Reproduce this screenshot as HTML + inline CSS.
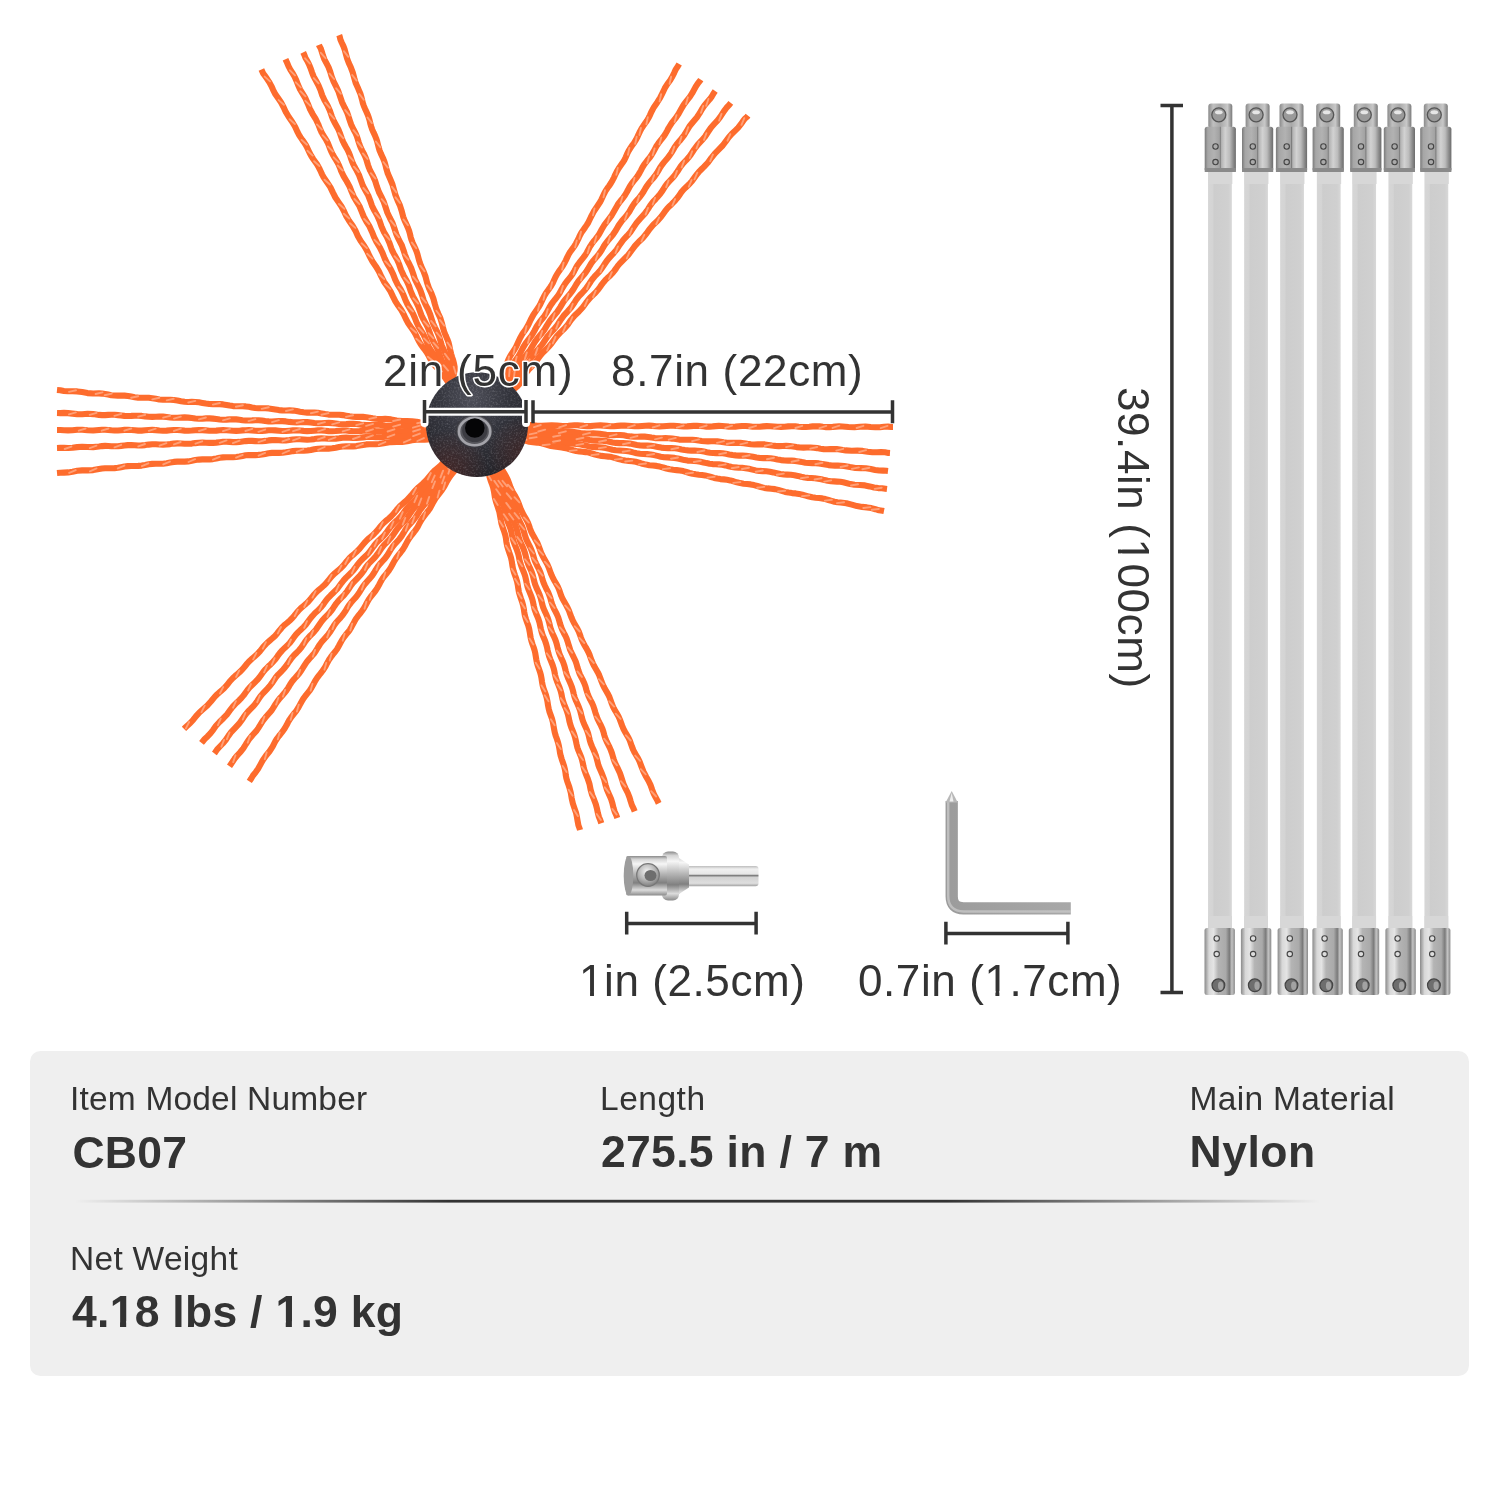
<!DOCTYPE html>
<html><head><meta charset="utf-8"><title>Chimney brush kit</title>
<style>html,body{margin:0;padding:0;background:#fff;width:1500px;height:1500px;overflow:hidden}svg{display:block;will-change:transform}</style>
</head><body>
<svg width="1500" height="1500" viewBox="0 0 1500 1500">

<defs>
 <radialGradient id="hubg" cx="0.45" cy="0.25" r="0.8">
  <stop offset="0" stop-color="#4e4f59"/>
  <stop offset="0.45" stop-color="#33343c"/>
  <stop offset="1" stop-color="#222227"/>
 </radialGradient>
 <filter id="noise" x="0" y="0" width="100%" height="100%">
  <feTurbulence type="fractalNoise" baseFrequency="0.55" numOctaves="2" seed="3" result="n"/>
  <feColorMatrix type="matrix" values="0 0 0 0 0.75  0 0 0 0 0.75  0 0 0 0 0.8  0 0 0 1.6 -0.75"/>
 </filter>
 <clipPath id="hubclip"><ellipse cx="477" cy="424.6" rx="51" ry="52.4"/></clipPath>
 <radialGradient id="hubred" cx="0.22" cy="0.95" r="0.4">
  <stop offset="0" stop-color="#7a2c22" stop-opacity="0.35"/>
  <stop offset="1" stop-color="#7a2c22" stop-opacity="0"/>
 </radialGradient>
 <radialGradient id="hubred2" cx="0.95" cy="0.78" r="0.35">
  <stop offset="0" stop-color="#7a2c22" stop-opacity="0.3"/>
  <stop offset="1" stop-color="#7a2c22" stop-opacity="0"/>
 </radialGradient>
 <radialGradient id="holeg" cx="0.5" cy="0.5" r="0.5">
  <stop offset="0" stop-color="#000"/>
  <stop offset="0.62" stop-color="#0a0a0c"/>
  <stop offset="0.7" stop-color="#8a8a90"/>
  <stop offset="0.85" stop-color="#6a6a70"/>
  <stop offset="1" stop-color="#44444a"/>
 </radialGradient>
 <linearGradient id="slv" x1="0" x2="1" y1="0" y2="0">
  <stop offset="0" stop-color="#7a7a7a"/>
  <stop offset="0.1" stop-color="#a6a6a6"/>
  <stop offset="0.3" stop-color="#b2b2b2"/>
  <stop offset="0.47" stop-color="#a2a2a2"/>
  <stop offset="0.5" stop-color="#7e7e7e"/>
  <stop offset="0.54" stop-color="#b4b4b4"/>
  <stop offset="0.66" stop-color="#d2d2d2"/>
  <stop offset="0.8" stop-color="#bcbcbc"/>
  <stop offset="0.92" stop-color="#8a8a8a"/>
  <stop offset="1" stop-color="#6c6c6c"/>
 </linearGradient>
 <linearGradient id="slvb" x1="0" x2="1" y1="0" y2="0">
  <stop offset="0" stop-color="#8a8a8a"/>
  <stop offset="0.15" stop-color="#d8d8d8"/>
  <stop offset="0.3" stop-color="#e4e4e4"/>
  <stop offset="0.45" stop-color="#b4b4b4"/>
  <stop offset="0.7" stop-color="#aaaaaa"/>
  <stop offset="0.82" stop-color="#7a7a7a"/>
  <stop offset="0.9" stop-color="#c4c4c4"/>
  <stop offset="1" stop-color="#8a8a8a"/>
 </linearGradient>
 <linearGradient id="capg" x1="0" x2="1" y1="0" y2="0">
  <stop offset="0" stop-color="#8a8a8a"/>
  <stop offset="0.2" stop-color="#c0c0c0"/>
  <stop offset="0.5" stop-color="#a8a8a8"/>
  <stop offset="0.8" stop-color="#c8c8c8"/>
  <stop offset="1" stop-color="#7a7a7a"/>
 </linearGradient>
 <linearGradient id="rodg" x1="0" x2="1" y1="0" y2="0">
  <stop offset="0" stop-color="#d6d6d6"/>
  <stop offset="0.2" stop-color="#d4d4d4"/>
  <stop offset="0.25" stop-color="#cdcdcd"/>
  <stop offset="0.85" stop-color="#d0d0d0"/>
  <stop offset="1" stop-color="#d8d8d8"/>
 </linearGradient>
 <linearGradient id="metv" x1="0" x2="0" y1="0" y2="1">
  <stop offset="0" stop-color="#8a8a8a"/>
  <stop offset="0.08" stop-color="#d4d4d4"/>
  <stop offset="0.2" stop-color="#f6f6f6"/>
  <stop offset="0.45" stop-color="#b6b6b6"/>
  <stop offset="0.68" stop-color="#808080"/>
  <stop offset="0.86" stop-color="#dcdcdc"/>
  <stop offset="1" stop-color="#8a8a8a"/>
 </linearGradient>
 <radialGradient id="holec" cx="0.45" cy="0.35" r="0.6">
  <stop offset="0" stop-color="#f4f4f4"/>
  <stop offset="0.6" stop-color="#b8b8b8"/>
  <stop offset="1" stop-color="#8a8a8a"/>
 </radialGradient>
 <linearGradient id="keyg" x1="0" x2="1" y1="0" y2="0">
  <stop offset="0" stop-color="#9c9c9c"/>
  <stop offset="1" stop-color="#a8a8a8"/>
 </linearGradient>
 <linearGradient id="shaftg" x1="0" x2="0" y1="0" y2="1">
  <stop offset="0" stop-color="#bdbdbd"/>
  <stop offset="0.15" stop-color="#f0f0f0"/>
  <stop offset="0.4" stop-color="#e6e6e6"/>
  <stop offset="0.47" stop-color="#7c7c7c"/>
  <stop offset="0.56" stop-color="#d2d2d2"/>
  <stop offset="0.85" stop-color="#dedede"/>
  <stop offset="1" stop-color="#a0a0a0"/>
 </linearGradient>
 <linearGradient id="divg" x1="0" x2="1" y1="0" y2="0">
  <stop offset="0" stop-color="#333" stop-opacity="0"/>
  <stop offset="0.3" stop-color="#333" stop-opacity="1"/>
  <stop offset="0.7" stop-color="#333" stop-opacity="1"/>
  <stop offset="1" stop-color="#333" stop-opacity="0"/>
 </linearGradient>
</defs>
<g fill="none" stroke="#fd6c2d" stroke-width="6.1" stroke-linecap="butt" stroke-linejoin="round"><path d="M453.9 389.9 L452.1 387.3 L450.2 384.9 L448.2 382.3 L446.5 379.8 L444.6 377.0 L442.8 374.4 L440.9 372.1 L438.8 369.8 L436.6 367.5 L434.1 364.7 L432.0 361.8 L430.4 359.1 L428.8 356.1 L426.9 352.8 L424.5 349.3 L422.6 346.8 L420.7 344.2 L418.9 341.2 L417.2 337.8 L415.5 334.2 L413.4 330.6 L410.8 327.0 L408.2 323.2 L405.9 319.0 L403.8 314.5 L401.3 310.1 L398.3 305.8 L395.4 301.3 L392.9 296.4 L390.5 291.4 L387.4 286.6 L384.1 281.9 L381.4 276.7 L378.9 271.4 L375.9 266.4 L372.5 261.5 L369.6 256.3 L367.1 250.9 L364.1 245.8 L360.7 241.0 L357.8 235.9 L355.4 230.6 L352.5 225.6 L349.2 221.0 L346.3 216.2 L344.0 211.2 L341.5 206.5 L338.5 202.1 L335.4 197.5 L332.8 192.4 L330.3 187.1 L327.0 182.2 L323.6 177.2 L322.2 174.6 L320.9 171.8 L319.6 169.0 L318.2 166.3 L316.6 163.7 L314.8 161.2 L313.0 158.7 L311.3 156.0 L309.8 153.3 L308.5 150.5 L307.2 147.7 L305.8 145.0 L304.1 142.4 L302.3 139.9 L300.6 137.4 L299.0 134.9 L297.6 132.2 L295.1 126.7 L292.1 121.7 L288.8 117.0 L285.9 112.2 L283.6 107.2 L281.1 102.5 L278.2 98.3 L275.4 94.3 L273.2 90.1 L271.4 86.1 L269.4 82.4 L267.2 79.1 L265.1 76.1 L263.2 73.4 L261.4 69.4"/><path d="M500.0 393.7 L502.3 391.8 L504.6 389.6 L506.2 386.9 L507.1 383.7 L505.1 382.0 L502.3 380.5 L501.8 377.2 L502.9 373.7 L504.2 370.6 L505.4 367.6 L506.7 364.0 L508.3 359.9 L509.8 356.8 L511.7 353.7 L514.0 350.3 L516.1 346.7 L518.0 342.5 L520.0 338.2 L522.5 333.8 L525.6 329.5 L528.3 324.9 L530.7 319.8 L533.4 314.7 L536.8 309.8 L538.5 307.3 L540.1 304.7 L541.4 301.9 L542.7 299.1 L544.1 296.3 L545.7 293.6 L547.5 291.0 L549.4 288.4 L551.2 285.7 L552.8 282.9 L554.1 280.0 L555.5 277.0 L557.1 274.1 L558.9 271.4 L560.8 268.8 L562.7 266.1 L564.3 263.3 L565.8 260.4 L567.2 257.4 L568.6 254.5 L570.3 251.7 L572.2 249.1 L574.1 246.5 L575.8 243.8 L577.3 241.0 L578.7 238.1 L580.0 235.2 L581.5 232.5 L583.3 229.9 L585.1 227.4 L586.8 224.9 L588.4 222.3 L590.9 217.0 L593.6 211.8 L596.8 207.0 L600.1 202.0 L601.5 199.3 L602.8 196.5 L604.1 193.7 L605.6 190.9 L607.3 188.3 L609.2 185.7 L611.0 183.0 L612.6 180.2 L614.1 177.3 L615.4 174.3 L616.9 171.3 L618.6 168.5 L620.5 165.8 L622.4 163.1 L624.2 160.3 L625.7 157.3 L627.0 154.2 L628.5 151.2 L630.2 148.4 L632.0 145.6 L634.0 143.0 L635.7 140.2 L637.3 137.3 L638.6 134.3 L640.0 131.4 L641.5 128.6 L643.3 125.9 L645.1 123.3 L646.9 120.7 L648.5 118.0 L649.9 115.3 L651.1 112.5 L653.9 107.2 L657.2 102.4 L660.2 97.7 L662.6 92.8 L664.8 88.2 L667.4 84.0 L670.2 80.2 L672.4 76.5 L674.2 72.8 L675.7 69.4 L677.7 66.6 L679.2 64.0"/><path d="M440.0 423.5 L442.8 423.7 L446.0 424.2 L442.9 424.3 L439.3 423.7 L436.3 423.3 L432.5 423.2 L428.0 423.2 L424.5 423.1 L420.7 422.6 L416.5 421.8 L412.0 421.2 L407.1 421.1 L402.0 421.1 L396.6 420.5 L391.0 419.4 L385.1 418.9 L382.1 419.0 L379.0 419.0 L375.9 418.8 L372.7 418.3 L369.5 417.7 L366.3 417.2 L363.0 416.9 L359.7 416.8 L356.3 416.9 L352.9 416.7 L349.5 416.3 L346.1 415.7 L342.7 415.1 L339.2 414.7 L335.6 414.7 L332.1 414.7 L328.5 414.6 L325.0 414.1 L321.5 413.4 L317.9 412.8 L314.4 412.6 L310.8 412.6 L307.2 412.6 L303.6 412.3 L300.0 411.8 L296.5 411.1 L293.0 410.6 L289.4 410.4 L285.9 410.5 L282.3 410.4 L278.9 410.1 L275.4 409.5 L272.0 408.9 L268.6 408.4 L265.2 408.3 L261.8 408.3 L258.5 408.3 L255.2 408.0 L252.0 407.5 L248.8 406.8 L245.7 406.4 L242.5 406.2 L239.4 406.2 L236.2 406.2 L233.0 406.1 L229.7 405.6 L226.5 405.0 L223.1 404.4 L219.8 404.1 L216.3 404.0 L212.9 404.1 L209.4 404.0 L205.9 403.5 L202.4 402.9 L198.9 402.3 L195.4 402.0 L191.8 401.9 L188.2 402.0 L184.6 401.7 L181.0 401.2 L177.4 400.5 L173.8 400.0 L170.2 399.8 L166.6 399.8 L163.0 399.8 L159.4 399.5 L155.8 398.8 L152.3 398.2 L148.7 397.8 L145.2 397.7 L141.6 397.7 L138.1 397.6 L134.7 397.2 L131.3 396.6 L127.9 396.0 L124.5 395.6 L121.2 395.5 L117.8 395.6 L114.6 395.5 L111.3 395.2 L108.2 394.6 L105.1 394.0 L102.1 393.6 L99.0 393.4 L93.1 393.5 L87.5 393.1 L82.2 392.1 L77.2 391.4 L72.5 391.3 L68.0 391.3 L63.9 391.0 L60.3 390.3 L57.0 390.0"/><path d="M514.0 426.0 L511.0 425.9 L508.5 425.3 L511.8 425.6 L514.8 425.8 L517.8 425.8 L521.5 425.6 L526.0 425.2 L529.4 425.1 L533.3 425.4 L537.4 425.8 L541.9 425.9 L546.7 425.5 L551.7 425.2 L557.1 425.5 L562.6 426.0 L568.4 425.8 L574.5 425.3 L577.5 425.3 L580.7 425.6 L583.8 425.9 L587.1 426.1 L590.3 426.1 L593.6 425.8 L596.9 425.5 L600.3 425.4 L603.6 425.6 L607.0 425.9 L610.5 426.2 L613.9 426.2 L617.4 425.9 L620.9 425.6 L624.4 425.5 L627.9 425.7 L631.4 426.0 L634.9 426.3 L638.4 426.3 L642.0 426.0 L645.5 425.7 L649.0 425.6 L652.6 425.9 L656.1 426.2 L659.6 426.4 L663.1 426.3 L666.6 426.0 L670.1 425.7 L673.5 425.7 L676.9 426.0 L680.3 426.3 L683.7 426.5 L687.1 426.4 L690.4 426.1 L693.7 425.9 L696.9 425.8 L700.1 426.0 L703.3 426.3 L706.4 426.6 L709.5 426.6 L712.6 426.4 L715.7 426.1 L718.9 425.9 L722.1 426.0 L725.4 426.2 L728.7 426.6 L732.0 426.7 L735.4 426.6 L738.8 426.3 L742.2 426.0 L745.7 426.0 L749.1 426.3 L752.6 426.7 L756.1 426.8 L759.7 426.7 L763.2 426.4 L766.8 426.1 L770.3 426.2 L773.9 426.5 L777.5 426.8 L781.0 426.9 L784.6 426.7 L788.2 426.4 L791.7 426.2 L795.3 426.3 L798.8 426.7 L802.3 427.0 L805.8 427.0 L809.3 426.8 L812.7 426.4 L816.1 426.3 L819.5 426.4 L822.9 426.8 L826.2 427.1 L829.5 427.1 L832.8 426.9 L836.0 426.6 L839.2 426.4 L842.3 426.5 L845.4 426.7 L848.5 427.0 L854.4 427.2 L860.0 426.7 L865.4 426.5 L870.6 427.0 L875.4 427.3 L879.9 427.2 L884.1 426.8 L888.0 426.6 L891.4 427.0 L893.0 427.0"/><path d="M448.4 456.0 L450.7 454.1 L452.5 452.2 L450.1 454.5 L448.1 456.7 L446.2 459.0 L443.8 462.0 L440.8 465.3 L438.2 467.5 L435.2 470.0 L432.3 472.9 L429.4 476.4 L426.3 480.1 L422.7 483.7 L418.6 487.2 L414.7 491.1 L411.0 495.7 L406.9 500.1 L404.5 502.1 L402.1 504.2 L399.8 506.3 L397.6 508.7 L395.6 511.3 L393.5 513.8 L391.2 516.3 L388.8 518.5 L386.2 520.7 L383.6 523.0 L381.2 525.5 L379.1 528.2 L376.9 530.9 L374.5 533.5 L371.9 535.9 L369.2 538.1 L366.6 540.5 L364.2 543.1 L361.9 545.9 L359.7 548.6 L357.2 551.2 L354.6 553.6 L351.9 555.8 L349.3 558.3 L347.0 560.9 L344.8 563.7 L342.5 566.4 L340.1 568.8 L337.4 571.1 L334.8 573.3 L332.3 575.7 L330.1 578.3 L328.0 580.9 L325.9 583.5 L323.6 585.8 L321.1 588.0 L318.6 590.1 L316.3 592.2 L314.2 594.5 L312.2 596.9 L310.3 599.3 L308.2 601.7 L305.9 603.9 L303.4 606.0 L300.9 608.1 L298.6 610.5 L296.4 613.0 L294.3 615.7 L292.1 618.3 L289.6 620.7 L287.0 623.0 L284.3 625.2 L281.8 627.7 L279.5 630.4 L277.3 633.2 L275.0 635.9 L272.4 638.3 L269.7 640.6 L267.0 643.0 L264.5 645.6 L262.2 648.3 L260.0 651.1 L257.6 653.8 L254.9 656.2 L252.2 658.5 L249.6 660.9 L247.2 663.5 L245.0 666.2 L242.8 668.9 L240.4 671.4 L237.8 673.7 L235.2 675.9 L232.7 678.2 L230.4 680.7 L228.3 683.3 L226.3 685.8 L224.1 688.2 L221.8 690.4 L219.3 692.4 L217.0 694.5 L214.9 696.6 L211.1 701.2 L207.3 705.5 L203.3 709.1 L199.4 712.5 L196.1 716.1 L193.3 719.7 L190.5 722.8 L187.6 725.4 L185.1 727.8 L184.0 728.9"/><path d="M487.4 465.3 L486.5 462.5 L485.8 460.1 L486.9 463.2 L487.8 467.0 L488.3 470.2 L489.0 474.1 L489.6 477.1 L490.6 480.4 L491.9 483.9 L493.2 487.9 L494.1 492.2 L494.8 496.9 L496.0 501.8 L497.7 506.8 L499.4 512.1 L500.4 517.8 L501.5 523.7 L502.4 526.6 L503.5 529.6 L504.5 532.6 L505.4 535.6 L506.0 538.8 L506.4 542.0 L507.0 545.3 L507.9 548.5 L509.0 551.7 L510.1 554.9 L511.1 558.1 L511.8 561.5 L512.3 564.9 L512.9 568.3 L513.8 571.7 L514.9 575.0 L516.1 578.3 L517.1 581.7 L517.8 585.1 L518.3 588.6 L518.9 592.1 L519.9 595.4 L521.0 598.8 L522.2 602.1 L523.1 605.4 L523.8 608.8 L524.3 612.3 L524.9 615.7 L525.9 619.0 L527.0 622.2 L528.2 625.4 L529.1 628.6 L529.7 631.9 L530.2 635.1 L530.8 638.4 L531.6 641.5 L532.6 644.5 L533.7 647.5 L534.6 650.4 L535.3 653.4 L535.8 656.5 L536.3 659.5 L536.9 662.6 L537.8 665.7 L538.9 668.8 L540.0 671.9 L540.9 675.1 L541.5 678.3 L542.0 681.7 L542.6 685.1 L543.5 688.4 L544.7 691.6 L545.9 694.9 L546.8 698.3 L547.5 701.7 L548.0 705.2 L548.7 708.7 L549.6 712.1 L550.8 715.4 L552.0 718.8 L552.9 722.2 L553.5 725.7 L554.1 729.2 L554.8 732.7 L555.8 736.0 L557.0 739.3 L558.1 742.7 L558.9 746.0 L559.5 749.4 L560.0 752.8 L560.8 756.2 L561.8 759.4 L562.9 762.6 L564.0 765.7 L564.8 768.9 L565.4 772.1 L565.8 775.3 L566.4 778.4 L567.3 781.4 L568.3 784.3 L569.3 787.1 L570.8 792.8 L571.7 798.3 L572.9 803.6 L574.5 808.4 L576.1 813.0 L577.0 817.4 L577.7 821.5 L578.4 825.3 L579.6 828.5 L580.0 830.0"/><path d="M454.8 390.4 L453.0 387.8 L451.5 385.2 L450.2 382.4 L448.8 379.5 L447.2 376.8 L445.4 374.3 L443.4 371.9 L441.2 369.1 L439.5 366.3 L438.2 363.5 L436.7 360.1 L435.3 357.3 L433.6 354.2 L431.4 350.8 L429.0 347.1 L427.6 344.1 L426.3 340.9 L424.9 337.4 L423.1 333.9 L420.9 330.3 L418.6 326.6 L416.6 322.5 L414.9 318.0 L412.9 313.5 L410.3 309.1 L407.6 304.6 L405.3 299.7 L403.3 294.6 L400.8 289.6 L397.8 284.8 L395.2 279.6 L393.1 274.1 L390.5 268.8 L387.4 263.8 L384.7 258.5 L382.5 252.9 L379.9 247.6 L376.8 242.5 L374.1 237.2 L371.9 231.7 L369.5 226.4 L366.4 221.5 L363.7 216.5 L361.6 211.3 L359.5 206.3 L356.7 201.6 L353.9 197.0 L351.7 191.9 L349.6 186.6 L346.8 181.5 L343.7 176.4 L341.1 171.0 L340.1 168.1 L338.9 165.3 L337.6 162.6 L336.0 159.9 L334.4 157.3 L332.8 154.6 L331.4 151.9 L330.2 149.0 L329.1 146.1 L327.9 143.2 L326.5 140.5 L324.9 137.8 L323.2 135.2 L321.7 132.6 L320.4 129.8 L319.3 127.0 L318.2 124.2 L315.6 118.8 L312.5 113.8 L309.8 108.7 L307.7 103.4 L305.5 98.4 L302.8 93.9 L300.1 89.5 L298.1 85.0 L296.4 80.6 L294.5 76.5 L292.4 72.9 L290.3 69.6 L288.6 66.4 L287.3 63.3 L285.5 59.3"/><path d="M502.8 393.7 L504.8 391.3 L506.7 388.9 L508.4 386.3 L509.8 383.7 L508.8 381.4 L507.6 378.9 L508.2 375.8 L509.2 372.5 L510.4 369.1 L511.8 365.9 L513.9 362.5 L515.7 360.0 L517.7 357.3 L519.7 354.2 L521.5 350.7 L523.4 347.0 L525.8 343.2 L528.7 339.4 L531.7 335.5 L534.3 331.0 L536.8 326.3 L539.9 321.7 L543.5 317.3 L546.7 312.4 L549.5 307.2 L551.1 304.6 L552.9 302.1 L554.8 299.7 L556.8 297.3 L558.6 294.8 L560.2 292.1 L561.7 289.3 L563.3 286.6 L565.0 283.9 L566.9 281.3 L568.9 278.9 L570.9 276.4 L572.7 273.7 L574.3 270.9 L575.8 268.1 L577.4 265.3 L579.3 262.7 L581.3 260.2 L583.3 257.7 L585.2 255.2 L586.8 252.5 L588.3 249.7 L589.8 246.9 L591.5 244.3 L593.3 241.8 L595.3 239.4 L597.2 237.0 L598.9 234.6 L601.8 229.3 L604.8 224.3 L608.3 219.8 L611.7 215.3 L614.6 210.2 L617.6 204.9 L619.4 202.4 L621.3 200.0 L623.3 197.6 L625.1 195.0 L626.7 192.3 L628.2 189.5 L629.7 186.7 L631.5 183.9 L633.4 181.4 L635.5 178.8 L637.4 176.3 L639.2 173.5 L640.8 170.6 L642.3 167.7 L644.0 164.9 L645.9 162.3 L647.9 159.7 L650.0 157.2 L651.8 154.5 L653.5 151.7 L655.0 148.8 L656.5 146.0 L658.3 143.4 L660.2 140.9 L662.2 138.4 L664.1 135.9 L665.7 133.3 L667.2 130.7 L668.6 128.0 L671.8 122.9 L675.4 118.4 L678.6 113.8 L681.2 109.1 L683.8 104.6 L686.8 100.6 L689.8 96.9 L692.2 93.2 L694.2 89.6 L696.0 86.2 L698.0 83.2 L700.0 80.8 L700.8 79.6"/><path d="M440.0 427.1 L442.7 427.4 L445.6 427.4 L442.9 427.5 L439.3 427.7 L436.3 427.6 L432.5 427.2 L428.0 426.7 L424.5 426.5 L420.7 426.7 L416.5 426.9 L411.9 426.8 L407.1 426.2 L402.0 425.7 L396.6 425.8 L391.0 426.0 L385.1 425.5 L382.1 425.1 L379.0 424.8 L375.9 424.7 L372.7 424.9 L369.5 425.1 L366.3 425.1 L363.0 424.9 L359.7 424.4 L356.3 424.0 L353.0 423.8 L349.5 423.9 L346.1 424.1 L342.6 424.2 L339.1 424.0 L335.6 423.5 L332.1 423.1 L328.6 422.9 L325.0 423.0 L321.5 423.3 L317.9 423.3 L314.3 423.0 L310.8 422.5 L307.2 422.1 L303.6 422.0 L300.0 422.2 L296.5 422.4 L292.9 422.3 L289.4 421.9 L285.9 421.4 L282.4 421.1 L278.9 421.1 L275.4 421.3 L272.0 421.5 L268.6 421.4 L265.2 421.0 L261.8 420.5 L258.5 420.2 L255.2 420.2 L252.0 420.4 L248.8 420.5 L245.6 420.5 L242.5 420.2 L239.4 419.8 L236.2 419.4 L233.0 419.3 L229.8 419.4 L226.4 419.6 L223.1 419.7 L219.7 419.5 L216.3 419.0 L212.9 418.6 L209.5 418.4 L206.0 418.4 L202.4 418.7 L198.9 418.7 L195.3 418.5 L191.8 418.0 L188.2 417.6 L184.6 417.4 L181.0 417.6 L177.4 417.8 L173.8 417.8 L170.2 417.5 L166.6 417.0 L163.0 416.6 L159.4 416.6 L155.8 416.8 L152.2 416.9 L148.7 416.8 L145.2 416.4 L141.7 415.9 L138.2 415.7 L134.7 415.7 L131.3 415.9 L127.8 416.0 L124.5 415.9 L121.1 415.5 L117.9 415.1 L114.6 414.8 L111.4 414.8 L108.2 414.9 L105.1 415.1 L102.0 415.1 L99.0 414.9 L93.2 414.1 L87.6 413.8 L82.2 414.2 L77.2 414.1 L72.4 413.6 L68.1 413.1 L64.0 412.9 L60.3 413.1 L57.0 413.0"/><path d="M514.0 428.8 L511.1 428.4 L508.6 428.3 L511.9 428.7 L515.8 428.9 L519.0 428.8 L523.0 428.7 L526.0 428.9 L529.4 429.3 L533.2 430.0 L537.3 430.4 L541.7 430.4 L546.5 430.3 L551.5 430.6 L556.8 431.5 L562.3 432.0 L568.1 431.9 L574.1 432.0 L577.1 432.4 L580.2 433.0 L583.3 433.4 L586.5 433.6 L589.8 433.5 L593.1 433.4 L596.4 433.5 L599.7 433.8 L603.0 434.3 L606.4 434.8 L609.7 435.1 L613.2 435.1 L616.6 435.0 L620.1 435.0 L623.6 435.3 L627.0 435.9 L630.5 436.4 L634.0 436.7 L637.5 436.7 L641.1 436.5 L644.6 436.6 L648.1 437.0 L651.5 437.6 L655.0 438.1 L658.5 438.3 L662.0 438.2 L665.5 438.1 L668.9 438.2 L672.3 438.6 L675.7 439.1 L679.1 439.6 L682.4 439.8 L685.7 439.8 L689.1 439.7 L692.3 439.7 L695.5 440.0 L698.7 440.6 L701.8 441.0 L704.9 441.3 L708.0 441.4 L711.1 441.3 L714.2 441.2 L717.3 441.4 L720.5 441.8 L723.7 442.3 L727.0 442.7 L730.3 442.9 L733.7 442.9 L737.1 442.8 L740.5 442.9 L743.9 443.2 L747.3 443.8 L750.8 444.3 L754.2 444.5 L757.8 444.4 L761.3 444.3 L764.8 444.4 L768.3 444.9 L771.9 445.5 L775.4 445.9 L778.9 446.1 L782.5 446.0 L786.0 445.9 L789.6 446.1 L793.1 446.6 L796.5 447.1 L800.0 447.5 L803.5 447.6 L807.0 447.5 L810.4 447.5 L813.8 447.7 L817.2 448.1 L820.5 448.7 L823.8 449.1 L827.0 449.2 L830.3 449.1 L833.5 449.0 L836.7 449.1 L839.8 449.5 L842.8 450.0 L845.8 450.4 L851.7 450.7 L857.3 450.6 L862.7 450.9 L867.7 451.7 L872.5 452.3 L877.0 452.3 L881.2 452.1 L885.0 452.3 L888.4 452.9 L890.0 453.0"/><path d="M451.2 457.6 L453.5 455.6 L454.7 453.4 L452.8 456.0 L451.0 458.4 L449.2 460.9 L446.9 463.7 L443.7 466.9 L441.1 469.3 L438.6 472.1 L436.0 475.4 L433.4 479.0 L430.3 482.6 L426.6 486.2 L422.9 490.0 L419.5 494.5 L415.9 499.1 L411.7 503.3 L409.4 505.5 L407.3 507.8 L405.3 510.2 L403.4 512.9 L401.5 515.5 L399.3 518.0 L397.0 520.3 L394.5 522.6 L392.1 525.0 L390.0 527.6 L387.9 530.4 L385.9 533.2 L383.7 535.9 L381.2 538.3 L378.6 540.7 L376.1 543.2 L373.9 546.0 L371.8 548.8 L369.7 551.7 L367.4 554.4 L364.9 556.8 L362.3 559.3 L359.8 561.8 L357.6 564.6 L355.6 567.4 L353.5 570.2 L351.1 572.8 L348.6 575.2 L346.1 577.6 L343.8 580.1 L341.7 582.8 L339.7 585.6 L337.7 588.3 L335.4 590.7 L333.1 593.0 L330.7 595.3 L328.5 597.6 L326.4 600.0 L324.6 602.6 L322.8 605.1 L320.8 607.5 L318.7 609.7 L316.3 611.9 L314.0 614.2 L311.8 616.6 L309.8 619.2 L307.8 621.9 L305.8 624.6 L303.5 627.1 L301.0 629.5 L298.5 631.9 L296.1 634.4 L294.0 637.2 L291.9 640.1 L289.8 642.9 L287.3 645.5 L284.7 647.9 L282.2 650.4 L279.8 653.1 L277.7 655.9 L275.6 658.9 L273.3 661.6 L270.8 664.2 L268.2 666.6 L265.7 669.1 L263.4 671.8 L261.3 674.7 L259.3 677.5 L257.0 680.2 L254.6 682.6 L252.1 685.0 L249.7 687.4 L247.5 690.0 L245.5 692.7 L243.6 695.4 L241.5 697.9 L239.3 700.2 L236.9 702.4 L234.7 704.6 L232.6 706.9 L230.7 709.3 L227.3 714.1 L223.4 718.2 L219.5 722.0 L216.0 725.8 L213.2 729.8 L210.4 733.3 L207.5 736.4 L204.7 739.0 L202.5 741.7 L201.5 742.9"/><path d="M490.3 465.6 L489.2 462.9 L489.2 460.4 L490.1 463.5 L490.9 467.3 L491.6 470.5 L492.8 474.2 L493.9 477.0 L495.2 480.2 L496.5 483.7 L497.5 487.7 L498.4 492.1 L499.7 496.6 L501.6 501.3 L503.5 506.2 L504.8 511.5 L506.1 517.2 L508.1 522.8 L509.3 525.6 L510.4 528.5 L511.3 531.5 L511.9 534.6 L512.6 537.8 L513.4 540.9 L514.5 544.0 L515.8 547.1 L517.0 550.2 L518.1 553.4 L518.9 556.7 L519.5 560.0 L520.4 563.3 L521.5 566.6 L522.8 569.8 L524.1 573.0 L525.2 576.3 L526.0 579.7 L526.7 583.2 L527.5 586.6 L528.7 589.9 L530.0 593.1 L531.3 596.3 L532.4 599.6 L533.2 603.0 L533.9 606.4 L534.7 609.8 L535.9 613.0 L537.2 616.2 L538.5 619.3 L539.5 622.5 L540.2 625.8 L540.9 629.0 L541.7 632.2 L542.7 635.3 L544.0 638.3 L545.2 641.2 L546.2 644.2 L547.0 647.2 L547.6 650.2 L548.3 653.1 L549.1 656.1 L550.2 659.1 L551.4 662.0 L552.6 665.0 L553.6 668.1 L554.4 671.3 L555.0 674.6 L555.8 677.9 L556.9 681.1 L558.2 684.3 L559.5 687.5 L560.6 690.7 L561.5 694.1 L562.1 697.5 L563.0 701.0 L564.1 704.3 L565.5 707.5 L566.8 710.8 L567.9 714.2 L568.7 717.6 L569.4 721.1 L570.3 724.5 L571.4 727.8 L572.8 731.0 L574.1 734.3 L575.1 737.6 L575.9 741.0 L576.6 744.4 L577.4 747.7 L578.6 750.9 L579.9 754.0 L581.2 757.1 L582.1 760.2 L582.9 763.4 L583.5 766.6 L584.3 769.7 L585.3 772.6 L586.4 775.5 L587.6 778.3 L589.5 784.0 L590.6 789.6 L592.1 794.9 L594.1 799.7 L595.8 804.3 L597.0 808.8 L597.9 813.1 L598.9 816.9 L600.3 820.2 L601.3 823.3"/><path d="M456.8 390.2 L454.8 387.8 L452.8 385.2 L451.3 382.6 L450.1 379.7 L449.0 376.8 L448.1 373.9 L446.9 370.7 L445.6 368.0 L444.0 365.1 L442.5 362.3 L441.0 358.8 L439.9 355.6 L438.7 352.1 L437.1 348.2 L435.6 345.4 L434.0 342.5 L432.3 339.3 L430.8 335.8 L429.5 332.0 L428.0 327.9 L426.0 323.9 L423.7 319.8 L421.5 315.4 L419.8 310.7 L418.0 305.8 L415.6 301.0 L412.9 296.3 L410.7 291.1 L408.9 285.7 L406.5 280.5 L403.6 275.4 L401.1 270.0 L399.2 264.4 L396.8 258.9 L393.8 253.7 L392.4 251.0 L391.3 248.3 L389.3 242.6 L386.9 237.1 L383.9 231.9 L381.5 226.6 L379.6 221.0 L377.3 215.7 L374.5 210.8 L372.0 205.8 L370.2 200.6 L368.3 195.6 L365.6 190.7 L362.9 185.7 L360.9 180.3 L358.9 174.8 L356.1 169.4 L354.6 166.8 L353.2 164.1 L352.0 161.3 L351.0 158.4 L350.0 155.4 L348.8 152.5 L347.5 149.7 L345.9 147.0 L344.4 144.3 L343.0 141.5 L341.8 138.6 L340.8 135.7 L339.8 132.8 L338.6 129.9 L337.2 127.2 L335.7 124.5 L334.2 121.8 L332.9 119.1 L331.8 116.3 L329.8 110.6 L327.4 105.3 L324.5 100.3 L322.2 95.3 L320.5 90.1 L318.4 85.3 L316.0 80.8 L313.7 76.6 L312.0 72.3 L310.6 68.2 L309.0 64.4 L307.3 61.0 L305.5 58.0 L304.4 55.0 L303.2 52.4"/><path d="M505.4 393.3 L507.7 391.4 L509.8 389.0 L511.6 386.2 L512.9 383.4 L512.2 380.8 L512.6 377.5 L514.1 374.8 L516.0 371.5 L518.0 368.1 L519.6 364.8 L521.6 361.1 L523.4 358.5 L525.6 355.7 L528.0 352.8 L530.4 349.6 L532.6 345.8 L534.9 341.9 L537.7 338.0 L540.9 334.3 L544.1 330.2 L546.8 325.6 L549.8 320.9 L553.3 316.5 L557.1 312.0 L560.3 307.1 L563.4 301.9 L565.2 299.5 L567.2 297.2 L569.3 294.8 L571.2 292.4 L573.0 289.9 L574.6 287.2 L576.2 284.5 L577.9 281.9 L579.8 279.4 L581.9 277.0 L584.0 274.6 L585.9 272.1 L587.6 269.5 L589.2 266.8 L590.8 264.1 L592.6 261.5 L594.6 259.1 L596.7 256.8 L598.7 254.4 L600.5 251.9 L602.1 249.3 L603.6 246.7 L605.2 244.1 L608.9 239.4 L612.7 235.0 L615.9 230.2 L618.7 225.4 L622.0 220.8 L625.8 216.5 L629.3 211.7 L630.8 209.1 L632.3 206.4 L634.0 203.9 L635.9 201.4 L638.0 199.1 L640.0 196.7 L641.9 194.2 L643.6 191.5 L645.2 188.7 L646.9 186.0 L648.7 183.4 L650.8 180.9 L652.9 178.5 L654.9 176.0 L656.8 173.3 L658.4 170.6 L660.0 167.8 L661.8 165.1 L663.7 162.6 L665.8 160.1 L667.9 157.7 L669.8 155.2 L671.5 152.6 L673.1 149.9 L674.6 147.2 L676.4 144.7 L678.3 142.3 L680.3 140.1 L684.0 135.4 L687.0 130.5 L689.9 125.7 L693.4 121.5 L696.8 117.5 L699.5 113.4 L701.9 109.2 L704.4 105.5 L707.1 102.3 L709.7 99.3 L711.9 96.4 L713.5 93.5 L715.2 91.1"/><path d="M440.0 429.4 L442.7 429.8 L445.7 430.4 L442.9 430.6 L439.3 430.5 L436.3 430.7 L432.5 431.1 L428.0 431.4 L424.5 431.3 L420.7 430.9 L416.5 430.6 L412.0 430.8 L407.1 431.3 L402.0 431.4 L396.6 430.9 L391.0 430.6 L385.1 431.0 L382.1 431.3 L379.0 431.4 L375.9 431.2 L372.7 430.9 L369.5 430.6 L366.3 430.5 L363.0 430.8 L359.7 431.1 L356.3 431.3 L353.0 431.2 L349.5 430.9 L346.1 430.5 L342.6 430.5 L339.1 430.7 L335.6 431.0 L332.1 431.2 L328.6 431.1 L325.0 430.7 L321.5 430.4 L317.9 430.4 L314.3 430.7 L310.8 431.0 L307.2 431.1 L303.6 430.9 L300.1 430.5 L296.5 430.3 L292.9 430.4 L289.4 430.7 L285.9 431.0 L282.4 431.0 L278.9 430.7 L275.4 430.4 L272.0 430.2 L268.6 430.3 L265.2 430.6 L261.8 430.9 L258.5 430.9 L255.2 430.7 L252.0 430.4 L248.8 430.1 L245.6 430.2 L242.5 430.4 L239.4 430.7 L236.2 430.9 L233.0 430.8 L229.7 430.5 L226.5 430.2 L223.1 430.1 L219.7 430.2 L216.3 430.6 L212.9 430.8 L209.4 430.7 L205.9 430.4 L202.4 430.1 L198.9 430.0 L195.3 430.2 L191.8 430.5 L188.2 430.7 L184.6 430.6 L181.0 430.3 L177.4 430.0 L173.8 430.0 L170.2 430.2 L166.6 430.6 L163.0 430.7 L159.4 430.5 L155.8 430.1 L152.2 429.9 L148.7 430.0 L145.2 430.3 L141.6 430.6 L138.2 430.6 L134.7 430.3 L131.3 430.0 L127.9 429.8 L124.5 429.9 L121.1 430.2 L117.8 430.5 L114.6 430.5 L111.4 430.3 L108.2 430.0 L105.1 429.8 L102.0 429.8 L99.0 430.0 L93.2 430.5 L87.6 430.3 L82.2 429.8 L77.2 429.7 L72.4 430.2 L68.0 430.4 L64.0 430.3 L60.3 430.0 L57.0 430.0"/><path d="M514.1 431.4 L511.2 431.5 L508.9 430.7 L512.0 431.3 L515.8 432.1 L519.0 432.7 L522.9 433.0 L526.0 433.1 L529.4 433.1 L533.2 433.4 L537.3 434.2 L541.6 435.0 L546.3 435.5 L551.4 435.6 L556.7 435.9 L562.1 436.9 L567.8 437.9 L573.8 438.1 L576.9 438.1 L580.0 438.3 L583.1 438.8 L586.2 439.4 L589.4 440.0 L592.6 440.5 L595.9 440.6 L599.3 440.6 L602.6 440.7 L606.0 441.1 L609.3 441.8 L612.7 442.4 L616.1 442.9 L619.5 443.1 L623.0 443.1 L626.5 443.2 L630.0 443.6 L633.4 444.3 L636.9 445.0 L640.4 445.5 L643.9 445.6 L647.4 445.6 L650.9 445.8 L654.4 446.2 L657.8 446.9 L661.2 447.6 L664.6 448.0 L668.1 448.1 L671.5 448.1 L674.9 448.3 L678.3 448.7 L681.6 449.4 L684.8 450.0 L688.1 450.4 L691.4 450.6 L694.6 450.6 L697.8 450.7 L700.9 451.0 L704.0 451.6 L707.0 452.2 L710.0 452.7 L713.1 453.0 L716.3 453.1 L719.5 453.1 L722.7 453.3 L725.9 453.7 L729.2 454.4 L732.5 455.0 L735.8 455.4 L739.2 455.6 L742.7 455.6 L746.1 455.7 L749.6 456.2 L753.0 456.8 L756.5 457.5 L759.9 458.0 L763.5 458.1 L767.0 458.1 L770.6 458.3 L774.1 458.8 L777.5 459.5 L781.0 460.1 L784.5 460.5 L788.1 460.6 L791.6 460.6 L795.1 460.9 L798.6 461.4 L802.0 462.1 L805.4 462.7 L808.8 463.0 L812.2 463.1 L815.6 463.1 L818.9 463.4 L822.2 463.9 L825.4 464.5 L828.6 465.1 L831.8 465.5 L834.9 465.6 L838.0 465.6 L841.1 465.7 L844.1 466.0 L849.9 467.1 L855.4 468.0 L860.8 468.1 L865.9 468.3 L870.7 469.0 L875.1 469.9 L879.2 470.5 L883.0 470.6 L886.4 470.8 L888.0 471.0"/><path d="M453.8 459.1 L456.0 457.1 L457.3 455.0 L455.6 457.6 L454.0 460.2 L452.2 462.6 L449.8 465.4 L446.6 468.6 L444.3 471.2 L441.9 474.2 L439.6 477.7 L437.0 481.3 L433.8 484.9 L430.3 488.5 L426.9 492.7 L423.8 497.3 L420.2 501.9 L415.9 506.2 L413.8 508.5 L411.9 511.0 L410.1 513.6 L408.3 516.3 L406.4 518.9 L404.2 521.4 L401.8 523.7 L399.5 526.2 L397.3 528.8 L395.4 531.5 L393.5 534.4 L391.4 537.2 L389.1 539.8 L386.7 542.3 L384.2 544.8 L382.0 547.6 L380.0 550.5 L378.0 553.4 L375.9 556.2 L373.5 558.9 L371.0 561.4 L368.5 564.0 L366.3 566.7 L364.4 569.7 L362.4 572.6 L360.2 575.3 L357.8 577.9 L355.4 580.4 L353.0 582.9 L350.9 585.6 L349.0 588.5 L347.1 591.3 L345.0 593.9 L342.8 596.4 L340.4 598.7 L338.2 601.1 L336.2 603.6 L334.4 606.2 L332.7 608.8 L330.8 611.3 L328.8 613.7 L326.6 615.9 L324.4 618.2 L322.2 620.6 L320.3 623.2 L318.4 626.0 L316.5 628.8 L314.4 631.4 L312.1 633.9 L309.6 636.3 L307.3 638.9 L305.2 641.6 L303.3 644.6 L301.3 647.5 L299.0 650.2 L296.6 652.8 L294.0 655.3 L291.7 658.0 L289.6 660.9 L287.6 663.9 L285.5 666.8 L283.2 669.5 L280.7 672.1 L278.2 674.6 L275.9 677.3 L273.9 680.2 L271.9 683.2 L269.8 686.0 L267.5 688.6 L265.1 691.1 L262.7 693.6 L260.5 696.2 L258.6 699.0 L256.8 701.8 L254.8 704.4 L252.6 706.9 L250.4 709.2 L248.1 711.5 L246.1 713.9 L244.2 716.3 L242.6 718.9 L239.1 723.7 L235.2 727.8 L231.4 731.8 L228.4 735.9 L225.7 740.0 L222.8 743.5 L219.9 746.5 L217.2 749.3 L215.3 752.2 L214.3 753.4"/><path d="M493.4 465.9 L492.3 463.2 L492.4 460.6 L493.5 463.7 L494.4 467.5 L495.3 470.6 L496.7 474.2 L498.0 477.0 L499.4 480.1 L500.7 483.6 L501.8 487.6 L502.9 491.9 L504.4 496.3 L506.5 500.9 L508.5 505.7 L510.0 511.0 L511.5 516.6 L513.8 522.0 L515.0 524.8 L516.2 527.7 L517.1 530.6 L517.9 533.7 L518.7 536.8 L519.6 539.9 L520.9 543.0 L522.3 546.0 L523.6 549.0 L524.7 552.2 L525.6 555.4 L526.4 558.8 L527.4 562.0 L528.6 565.2 L530.1 568.4 L531.5 571.5 L532.6 574.8 L533.5 578.2 L534.3 581.6 L535.3 584.9 L536.6 588.1 L538.1 591.3 L539.5 594.5 L540.6 597.8 L541.5 601.1 L542.3 604.5 L543.3 607.8 L544.6 610.9 L546.1 614.0 L547.4 617.1 L548.5 620.3 L549.4 623.5 L550.1 626.7 L551.1 629.9 L552.2 632.9 L553.6 635.8 L554.9 638.7 L556.0 641.6 L556.9 644.6 L557.6 647.5 L558.4 650.5 L559.3 653.4 L560.5 656.3 L561.8 659.2 L563.1 662.1 L564.2 665.2 L565.1 668.4 L565.9 671.6 L566.8 674.8 L568.0 678.0 L569.4 681.1 L570.8 684.2 L572.0 687.4 L573.0 690.8 L573.8 694.2 L574.7 697.5 L576.0 700.8 L577.5 704.0 L578.9 707.2 L580.1 710.5 L581.0 713.9 L581.8 717.4 L582.8 720.7 L584.1 724.0 L585.6 727.1 L587.0 730.3 L588.2 733.6 L589.0 736.9 L589.8 740.3 L590.8 743.5 L592.1 746.7 L593.5 749.7 L594.8 752.8 L596.0 755.9 L596.8 759.0 L597.6 762.1 L598.4 765.2 L599.5 768.1 L600.8 771.0 L602.0 773.7 L604.1 779.3 L605.5 784.8 L607.1 790.0 L609.2 794.8 L611.2 799.3 L612.5 803.7 L613.5 807.9 L614.7 811.7 L616.2 815.0 L617.3 818.0"/><path d="M457.6 390.8 L455.9 388.2 L454.6 385.3 L453.5 382.3 L452.5 379.5 L451.5 376.5 L450.8 373.5 L450.0 370.3 L449.3 367.3 L448.7 364.0 L448.0 360.6 L446.8 356.7 L445.4 353.5 L443.7 349.8 L441.9 345.7 L440.9 342.5 L439.9 339.0 L438.7 335.4 L437.1 331.6 L435.1 327.8 L433.2 323.7 L431.7 319.2 L430.2 314.5 L428.3 309.8 L425.8 305.1 L423.6 300.2 L422.0 294.9 L420.1 289.6 L417.5 284.4 L414.9 279.2 L413.1 273.5 L411.1 267.9 L409.8 265.2 L408.4 262.5 L407.0 259.8 L405.8 257.0 L404.8 254.2 L403.9 251.3 L402.9 248.4 L401.9 245.5 L400.5 242.8 L399.1 240.1 L397.7 237.4 L396.5 234.6 L395.5 231.8 L394.6 228.9 L392.6 223.2 L389.9 218.0 L387.4 212.7 L385.6 207.2 L383.8 201.9 L381.4 196.9 L378.9 192.0 L377.0 186.8 L375.3 181.3 L373.0 176.0 L370.2 170.7 L369.0 167.9 L368.0 165.0 L367.1 162.0 L366.2 159.1 L365.0 156.2 L363.7 153.4 L362.2 150.7 L360.8 147.9 L359.6 144.9 L358.6 141.9 L357.7 138.9 L356.7 135.9 L355.5 133.1 L354.0 130.3 L352.6 127.5 L351.2 124.6 L350.2 121.7 L349.2 118.8 L348.3 115.8 L347.3 112.9 L346.0 110.1 L344.6 107.5 L342.0 102.1 L340.1 96.5 L338.3 91.1 L335.9 86.1 L333.5 81.3 L331.6 76.4 L330.2 71.6 L328.5 67.1 L326.4 63.1 L324.4 59.3 L323.0 55.6 L321.9 52.0 L320.9 48.8 L319.4 46.1 L318.9 44.8"/><path d="M507.6 392.5 L510.0 390.6 L512.5 388.7 L514.7 386.5 L516.5 383.9 L517.1 380.9 L517.7 377.8 L519.2 374.6 L521.3 371.6 L523.7 368.6 L526.0 365.9 L528.3 362.6 L529.9 360.0 L531.7 357.2 L533.8 354.2 L536.3 351.3 L539.1 348.2 L541.9 344.9 L544.5 341.0 L547.1 337.0 L550.3 333.1 L553.9 329.3 L557.3 325.1 L560.3 320.5 L563.5 315.9 L567.5 311.6 L571.3 307.2 L574.7 302.2 L576.3 299.7 L578.1 297.3 L580.1 295.0 L582.3 292.8 L584.4 290.5 L586.3 288.1 L588.1 285.6 L589.8 283.0 L591.5 280.4 L593.4 277.9 L595.4 275.6 L597.6 273.4 L599.7 271.1 L601.6 268.7 L603.3 266.1 L605.0 263.5 L606.7 261.0 L608.6 258.6 L610.6 256.4 L612.7 254.2 L616.6 249.6 L619.8 244.7 L623.2 240.0 L627.0 235.9 L630.7 231.7 L633.7 227.1 L636.9 222.4 L640.8 218.0 L644.8 213.6 L646.6 211.1 L648.3 208.6 L649.9 206.0 L651.7 203.4 L653.7 201.1 L655.9 198.8 L658.0 196.5 L660.1 194.1 L661.9 191.5 L663.6 188.8 L665.3 186.1 L667.2 183.6 L669.4 181.2 L671.6 178.9 L673.7 176.6 L675.6 174.1 L677.4 171.5 L679.1 168.8 L680.8 166.2 L682.8 163.8 L684.9 161.5 L687.0 159.3 L689.0 157.0 L690.8 154.6 L694.1 149.5 L697.6 144.9 L701.5 140.7 L705.1 136.5 L708.0 132.0 L710.9 127.7 L714.2 124.0 L717.4 120.6 L720.1 117.1 L722.4 113.6 L724.6 110.3 L726.7 107.5 L729.0 105.2 L730.8 102.9"/><path d="M439.9 432.4 L442.6 432.9 L445.6 433.6 L442.9 433.8 L439.3 434.0 L436.3 434.4 L432.5 435.0 L428.0 435.4 L424.5 435.3 L420.7 435.1 L416.5 435.1 L412.0 435.5 L407.1 436.1 L402.0 436.3 L396.6 436.0 L391.0 436.1 L385.1 436.8 L382.1 437.1 L379.0 437.2 L375.9 437.1 L372.8 436.9 L369.5 436.8 L366.3 437.0 L363.0 437.4 L359.7 437.8 L356.4 438.0 L353.0 438.0 L349.5 437.8 L346.1 437.6 L342.6 437.7 L339.2 438.2 L335.7 438.6 L332.1 438.8 L328.6 438.8 L325.0 438.5 L321.5 438.4 L317.9 438.6 L314.3 439.1 L310.8 439.5 L307.2 439.7 L303.6 439.5 L300.0 439.3 L296.5 439.3 L292.9 439.5 L289.4 440.0 L285.9 440.4 L282.4 440.5 L278.9 440.3 L275.4 440.1 L272.0 440.1 L268.6 440.4 L265.2 440.9 L261.8 441.2 L258.5 441.3 L255.2 441.1 L252.0 440.9 L248.8 440.9 L245.6 441.1 L242.5 441.5 L239.4 441.9 L236.2 442.1 L233.0 442.1 L229.7 441.9 L226.4 441.7 L223.1 441.8 L219.7 442.2 L216.3 442.6 L212.9 442.9 L209.4 442.9 L205.9 442.7 L202.4 442.5 L198.9 442.7 L195.3 443.1 L191.8 443.6 L188.2 443.8 L184.6 443.7 L181.0 443.5 L177.4 443.4 L173.8 443.6 L170.2 444.1 L166.6 444.5 L163.0 444.6 L159.4 444.5 L155.8 444.3 L152.2 444.3 L148.7 444.6 L145.2 445.1 L141.7 445.4 L138.2 445.5 L134.7 445.3 L131.2 445.1 L127.8 445.1 L124.5 445.5 L121.1 445.9 L117.9 446.3 L114.6 446.3 L111.4 446.2 L108.2 446.0 L105.1 445.9 L102.0 446.1 L99.0 446.5 L93.2 447.1 L87.6 447.0 L82.2 446.7 L77.2 447.1 L72.5 447.7 L68.1 448.0 L64.0 447.9 L60.3 447.9 L57.0 448.0"/><path d="M514.3 434.3 L511.3 434.4 L509.1 433.7 L512.1 434.4 L515.9 435.4 L519.0 436.2 L522.9 436.7 L526.0 436.8 L529.4 437.0 L533.2 437.5 L537.2 438.4 L541.6 439.4 L546.3 440.1 L551.3 440.4 L556.6 440.9 L562.0 442.1 L567.7 443.3 L573.7 443.8 L576.7 443.9 L579.8 444.3 L582.9 444.9 L586.0 445.6 L589.2 446.4 L592.4 446.9 L595.7 447.1 L599.1 447.3 L602.4 447.5 L605.7 448.1 L609.1 448.9 L612.4 449.7 L615.8 450.3 L619.3 450.5 L622.8 450.7 L626.3 451.0 L629.7 451.5 L633.1 452.4 L636.6 453.2 L640.0 453.7 L643.5 454.0 L647.1 454.1 L650.6 454.5 L654.0 455.1 L657.4 455.9 L660.8 456.7 L664.2 457.2 L667.7 457.4 L671.1 457.6 L674.5 457.9 L677.8 458.5 L681.1 459.3 L684.4 460.1 L687.6 460.6 L690.9 460.8 L694.1 461.0 L697.3 461.2 L700.4 461.7 L703.5 462.4 L706.5 463.1 L709.5 463.7 L712.6 464.1 L715.7 464.3 L718.9 464.4 L722.2 464.8 L725.4 465.4 L728.6 466.2 L731.9 466.9 L735.2 467.4 L738.7 467.7 L742.1 467.8 L745.5 468.2 L749.0 468.8 L752.4 469.6 L755.8 470.4 L759.3 470.9 L762.8 471.1 L766.4 471.3 L769.9 471.7 L773.4 472.4 L776.8 473.2 L780.3 474.0 L783.8 474.4 L787.4 474.6 L790.9 474.8 L794.4 475.2 L797.8 475.9 L801.2 476.8 L804.6 477.5 L808.0 477.9 L811.4 478.0 L814.8 478.2 L818.1 478.7 L821.4 479.3 L824.6 480.1 L827.7 480.8 L830.9 481.2 L834.1 481.4 L837.2 481.6 L840.3 481.8 L843.2 482.3 L849.0 483.7 L854.5 484.7 L859.9 485.0 L865.0 485.4 L869.7 486.4 L874.1 487.5 L878.2 488.1 L882.0 488.3 L885.4 488.8 L887.0 489.0"/><path d="M456.4 460.6 L458.3 458.3 L460.2 456.2 L458.6 459.3 L456.8 461.8 L454.9 464.1 L452.4 466.9 L449.6 470.4 L447.7 473.3 L445.7 476.6 L443.4 480.1 L440.5 483.5 L437.3 487.1 L434.2 491.2 L431.5 495.8 L428.2 500.4 L424.3 504.8 L420.5 509.5 L418.9 512.1 L417.3 514.8 L415.5 517.5 L413.6 520.0 L411.4 522.5 L409.2 524.9 L407.0 527.5 L405.1 530.3 L403.4 533.2 L401.6 536.1 L399.5 538.9 L397.2 541.5 L394.9 544.1 L392.6 546.8 L390.7 549.7 L388.8 552.8 L386.9 555.8 L384.8 558.6 L382.4 561.2 L380.0 563.9 L377.8 566.7 L375.9 569.6 L374.1 572.7 L372.1 575.7 L369.9 578.4 L367.5 581.0 L365.2 583.7 L363.1 586.4 L361.2 589.4 L359.4 592.3 L357.5 595.2 L355.4 597.8 L353.1 600.3 L350.9 602.8 L348.9 605.4 L347.1 608.2 L345.5 611.0 L343.7 613.6 L341.8 616.1 L339.8 618.5 L337.7 620.8 L335.6 623.2 L333.8 625.8 L332.1 628.6 L330.4 631.4 L328.5 634.1 L326.3 636.7 L324.1 639.2 L321.8 641.8 L319.8 644.5 L317.9 647.5 L316.1 650.5 L314.1 653.4 L311.8 656.1 L309.4 658.7 L307.1 661.4 L305.1 664.4 L303.2 667.4 L301.3 670.5 L299.2 673.4 L296.8 676.1 L294.4 678.7 L292.1 681.5 L290.1 684.5 L288.3 687.6 L286.4 690.5 L284.2 693.3 L281.9 696.0 L279.5 698.6 L277.4 701.3 L275.5 704.2 L273.7 707.1 L271.9 710.0 L269.8 712.6 L267.6 715.1 L265.4 717.6 L263.4 720.1 L261.6 722.7 L260.0 725.4 L258.3 728.1 L256.6 730.6 L252.6 735.0 L249.0 739.4 L246.0 744.0 L243.3 748.4 L240.2 752.2 L237.2 755.5 L234.5 758.8 L232.4 762.0 L230.4 764.9 L229.5 766.2"/><path d="M496.7 466.2 L495.6 463.6 L495.7 460.9 L496.9 464.0 L498.1 467.7 L499.1 470.7 L500.6 474.3 L501.9 477.0 L503.5 480.0 L505.0 483.5 L506.3 487.3 L507.5 491.6 L509.2 495.9 L511.4 500.4 L513.7 505.1 L515.4 510.3 L517.1 515.8 L519.5 521.2 L520.9 523.9 L522.2 526.6 L523.3 529.6 L524.2 532.6 L525.1 535.7 L526.1 538.7 L527.4 541.7 L528.9 544.6 L530.4 547.6 L531.7 550.7 L532.8 553.9 L533.7 557.1 L534.7 560.4 L536.1 563.5 L537.6 566.6 L539.2 569.7 L540.5 572.8 L541.6 576.1 L542.5 579.5 L543.6 582.8 L545.0 586.0 L546.5 589.1 L548.1 592.2 L549.4 595.4 L550.5 598.6 L551.4 602.0 L552.5 605.2 L553.8 608.3 L555.4 611.4 L556.9 614.4 L558.2 617.4 L559.2 620.6 L560.1 623.8 L561.1 626.9 L562.3 629.9 L563.7 632.7 L565.2 635.5 L566.5 638.3 L567.5 641.2 L568.4 644.1 L569.3 647.0 L570.2 650.0 L571.5 652.8 L572.9 655.7 L574.3 658.5 L575.7 661.5 L576.7 664.6 L577.6 667.8 L578.6 670.9 L579.8 674.1 L581.3 677.1 L582.9 680.2 L584.3 683.3 L585.5 686.5 L586.4 689.9 L587.5 693.2 L588.7 696.5 L590.2 699.6 L591.9 702.7 L593.3 705.9 L594.4 709.2 L595.4 712.6 L596.5 715.9 L597.7 719.2 L599.3 722.3 L600.9 725.4 L602.3 728.5 L603.4 731.8 L604.3 735.1 L605.3 738.3 L606.6 741.4 L608.1 744.4 L609.6 747.4 L610.9 750.4 L612.0 753.4 L612.9 756.5 L613.8 759.5 L614.9 762.5 L616.2 765.2 L617.5 767.9 L620.0 773.3 L621.8 778.7 L623.4 783.9 L625.6 788.6 L627.8 793.0 L629.5 797.3 L630.7 801.4 L631.9 805.1 L633.5 808.3 L634.7 811.3"/><path d="M459.6 390.5 L457.8 388.1 L456.1 385.5 L454.7 382.8 L453.6 379.7 L453.3 376.6 L454.0 373.4 L454.6 370.1 L454.6 366.9 L454.0 363.5 L453.1 360.1 L452.1 357.2 L451.1 353.8 L450.2 349.9 L449.3 345.5 L448.5 342.3 L447.2 338.9 L445.6 335.3 L444.1 331.5 L442.9 327.3 L441.8 322.8 L440.4 318.3 L438.3 313.7 L436.3 309.0 L434.8 303.9 L433.4 298.6 L431.4 293.4 L429.0 288.2 L427.1 282.7 L425.6 276.9 L423.5 271.3 L422.2 268.5 L421.0 265.8 L419.9 262.9 L419.0 260.0 L418.2 257.0 L417.4 254.0 L416.4 251.1 L415.2 248.3 L413.9 245.5 L412.6 242.7 L411.5 239.8 L410.6 236.8 L409.9 233.8 L409.1 230.9 L408.0 228.0 L406.8 225.2 L405.5 222.4 L404.3 219.7 L403.2 216.8 L401.7 211.0 L399.9 205.4 L397.5 200.2 L395.4 194.9 L393.9 189.6 L392.4 184.2 L390.2 179.0 L387.8 173.6 L386.1 167.8 L385.4 164.9 L384.5 161.9 L383.4 159.1 L382.1 156.2 L380.8 153.4 L379.6 150.5 L378.7 147.5 L377.9 144.4 L377.1 141.3 L376.1 138.3 L374.9 135.3 L373.5 132.4 L372.2 129.5 L371.2 126.5 L370.3 123.5 L369.6 120.4 L368.7 117.3 L367.6 114.4 L366.3 111.5 L365.0 108.7 L363.8 105.8 L362.8 102.9 L362.1 99.9 L361.3 96.9 L360.5 94.0 L358.2 88.6 L355.8 83.3 L354.2 77.9 L352.8 72.6 L350.9 67.6 L348.8 63.0 L347.1 58.5 L345.9 54.1 L344.8 49.9 L343.4 46.1 L341.8 42.7 L340.4 39.5 L339.7 36.5 L339.2 35.2"/><path d="M510.3 392.2 L512.6 390.2 L515.1 388.2 L517.5 386.1 L519.7 383.7 L521.3 381.1 L522.7 378.1 L524.3 375.2 L526.3 372.4 L528.6 369.7 L530.9 367.4 L533.5 364.7 L536.2 361.4 L538.0 358.7 L540.1 355.9 L542.4 353.0 L545.3 350.2 L548.3 347.2 L551.3 343.8 L554.0 340.0 L556.9 336.1 L560.4 332.4 L564.2 328.8 L567.7 324.7 L570.9 320.1 L574.5 315.8 L578.7 311.8 L582.6 307.5 L586.1 302.7 L589.9 298.0 L592.0 295.9 L594.3 293.8 L596.4 291.6 L598.4 289.3 L600.2 286.8 L601.9 284.3 L603.8 281.9 L605.8 279.6 L608.0 277.5 L610.3 275.4 L612.4 273.2 L614.3 270.9 L616.1 268.4 L617.8 265.9 L619.7 263.6 L623.9 259.3 L628.1 255.1 L631.6 250.5 L635.0 245.9 L638.8 241.8 L642.8 238.0 L646.3 233.8 L649.5 229.2 L653.3 224.8 L657.6 220.7 L661.5 216.2 L663.3 213.7 L665.1 211.2 L667.0 208.8 L669.1 206.5 L671.4 204.4 L673.6 202.2 L675.7 199.9 L677.7 197.5 L679.5 194.9 L681.3 192.3 L683.3 189.9 L685.5 187.7 L687.8 185.5 L690.0 183.3 L692.1 180.9 L693.9 178.4 L695.7 175.9 L697.6 173.4 L699.6 171.1 L701.7 169.0 L703.9 166.9 L708.0 162.5 L711.4 157.8 L715.0 153.3 L718.9 149.4 L722.7 145.5 L725.8 141.4 L728.8 137.3 L731.9 133.8 L735.2 130.6 L738.2 127.6 L740.7 124.4 L742.8 121.4 L744.8 118.7 L747.1 116.7 L748.0 115.6"/><path d="M439.6 435.6 L442.5 435.8 L445.7 436.4 L442.8 437.1 L439.2 437.4 L436.2 437.8 L432.5 438.5 L428.0 439.4 L424.6 439.7 L420.7 439.8 L416.5 439.8 L411.9 440.2 L407.2 441.2 L402.1 441.9 L396.6 442.0 L391.0 442.1 L385.1 443.0 L382.1 443.6 L379.1 444.0 L376.0 444.2 L372.8 444.2 L369.5 444.2 L366.3 444.4 L363.0 444.9 L359.7 445.5 L356.4 446.1 L353.0 446.4 L349.6 446.4 L346.1 446.4 L342.6 446.5 L339.1 447.0 L335.7 447.7 L332.2 448.3 L328.6 448.6 L325.1 448.6 L321.5 448.6 L317.9 448.8 L314.3 449.3 L310.8 450.0 L307.2 450.5 L303.7 450.7 L300.1 450.7 L296.5 450.7 L292.9 451.1 L289.4 451.7 L285.9 452.3 L282.4 452.8 L278.9 452.9 L275.4 452.9 L272.0 452.9 L268.5 453.3 L265.2 453.9 L261.9 454.5 L258.5 454.9 L255.2 455.1 L252.0 455.0 L248.7 455.1 L245.6 455.3 L242.5 455.9 L239.4 456.5 L236.3 457.0 L233.0 457.2 L229.8 457.2 L226.4 457.2 L223.1 457.4 L219.7 457.8 L216.3 458.5 L212.9 459.1 L209.5 459.4 L206.0 459.4 L202.4 459.4 L198.9 459.6 L195.3 460.1 L191.8 460.8 L188.2 461.4 L184.6 461.6 L181.0 461.6 L177.4 461.6 L173.8 461.9 L170.2 462.5 L166.6 463.2 L163.0 463.7 L159.4 463.8 L155.8 463.8 L152.2 463.9 L148.7 464.3 L145.2 465.0 L141.7 465.6 L138.2 465.9 L134.7 466.0 L131.2 466.0 L127.8 466.1 L124.5 466.5 L121.1 467.2 L117.9 467.8 L114.6 468.1 L111.4 468.2 L108.2 468.2 L105.1 468.2 L102.0 468.5 L99.0 469.0 L93.2 470.1 L87.6 470.4 L82.2 470.4 L77.2 470.8 L72.5 471.7 L68.1 472.4 L64.0 472.6 L60.3 472.7 L57.0 473.0"/><path d="M514.5 436.9 L511.6 436.5 L508.8 437.0 L512.2 437.6 L516.1 438.1 L519.2 438.9 L523.0 440.0 L525.9 440.9 L529.3 441.7 L533.0 442.2 L537.2 442.6 L541.6 443.3 L546.1 444.6 L551.0 446.0 L556.2 446.8 L561.8 447.4 L567.4 448.6 L573.2 450.3 L576.2 451.0 L579.3 451.4 L582.4 451.7 L585.6 452.1 L588.8 452.6 L591.9 453.5 L595.1 454.5 L598.3 455.3 L601.6 455.9 L605.0 456.2 L608.4 456.6 L611.8 457.1 L615.2 458.0 L618.5 459.0 L621.9 459.9 L625.3 460.5 L628.8 460.9 L632.3 461.2 L635.8 461.8 L639.2 462.7 L642.5 463.8 L645.9 464.6 L649.4 465.2 L652.9 465.5 L656.4 465.9 L659.8 466.6 L663.2 467.5 L666.5 468.5 L669.8 469.3 L673.2 469.8 L676.6 470.1 L679.9 470.5 L683.2 471.1 L686.4 472.0 L689.5 473.0 L692.6 473.8 L695.8 474.3 L698.9 474.7 L702.0 475.0 L705.1 475.4 L708.1 476.1 L711.1 477.0 L714.1 477.9 L717.2 478.6 L720.4 479.1 L723.7 479.4 L727.0 479.8 L730.3 480.4 L733.6 481.3 L736.9 482.3 L740.2 483.1 L743.6 483.7 L747.1 484.0 L750.6 484.4 L754.0 485.1 L757.4 486.0 L760.8 487.0 L764.3 487.9 L767.8 488.4 L771.3 488.7 L774.9 489.1 L778.3 489.9 L781.7 490.9 L785.1 491.9 L788.6 492.6 L792.1 493.1 L795.6 493.4 L799.0 493.9 L802.4 494.7 L805.7 495.6 L809.0 496.6 L812.3 497.3 L815.6 497.7 L818.9 498.0 L822.2 498.4 L825.4 499.1 L828.4 500.0 L831.5 500.9 L834.5 501.7 L837.5 502.2 L840.5 502.5 L846.4 503.2 L851.8 504.6 L857.0 506.1 L862.1 506.9 L866.9 507.4 L871.3 508.1 L875.4 509.2 L879.0 510.3 L882.5 510.7 L884.0 511.0"/><path d="M458.4 461.7 L460.4 459.8 L462.2 457.7 L460.7 459.8 L459.0 463.0 L457.7 465.7 L455.8 468.9 L453.1 472.6 L450.9 475.3 L448.7 478.4 L446.6 482.0 L444.5 486.0 L441.9 490.1 L438.8 494.2 L435.5 498.5 L432.7 503.3 L429.9 508.5 L428.1 511.0 L426.2 513.4 L424.3 515.8 L422.4 518.3 L420.7 521.1 L419.2 523.9 L417.7 526.8 L415.9 529.6 L413.9 532.3 L411.7 535.0 L409.7 537.7 L407.8 540.6 L406.2 543.6 L404.5 546.7 L402.7 549.7 L400.6 552.5 L398.3 555.2 L396.2 558.1 L394.3 561.1 L392.6 564.2 L390.9 567.4 L389.0 570.3 L386.8 573.2 L384.5 575.9 L382.4 578.8 L380.6 581.9 L379.0 585.0 L377.2 588.1 L375.3 591.0 L373.1 593.8 L370.9 596.5 L368.9 599.3 L367.2 602.3 L365.6 605.3 L363.9 608.3 L362.0 611.0 L360.0 613.6 L357.9 616.2 L356.0 618.8 L354.4 621.6 L352.9 624.4 L351.4 627.1 L349.8 629.8 L347.9 632.3 L345.8 634.8 L343.8 637.4 L342.0 640.1 L340.4 643.0 L338.8 646.0 L337.1 649.0 L335.1 651.7 L332.9 654.4 L330.8 657.2 L328.8 660.1 L327.1 663.2 L325.5 666.4 L323.6 669.4 L321.5 672.3 L319.2 675.1 L317.1 677.9 L315.1 681.0 L313.4 684.2 L311.7 687.3 L309.8 690.4 L307.6 693.2 L305.3 696.0 L303.2 698.9 L301.4 702.0 L299.7 705.1 L298.0 708.2 L296.1 711.1 L293.9 713.8 L291.7 716.6 L289.7 719.4 L288.0 722.3 L286.5 725.3 L284.8 728.2 L283.0 730.9 L281.0 733.5 L279.0 736.0 L277.1 738.5 L275.4 741.2 L274.0 743.9 L272.6 746.6 L269.4 751.5 L265.9 755.8 L262.8 760.2 L260.4 764.6 L258.1 768.8 L255.6 772.3 L253.0 775.5 L251.1 778.7 L249.3 781.4"/><path d="M499.7 466.7 L498.8 464.0 L498.4 461.4 L499.7 464.5 L501.3 468.1 L502.8 470.9 L504.8 474.2 L506.3 476.8 L507.8 479.9 L509.1 483.4 L510.5 487.3 L512.3 491.3 L514.7 495.3 L517.1 499.7 L519.1 504.5 L521.0 509.7 L523.5 514.8 L526.5 519.9 L527.9 522.6 L529.0 525.5 L530.0 528.5 L531.1 531.4 L532.5 534.3 L534.1 537.1 L535.7 539.9 L537.3 542.8 L538.6 545.9 L539.8 549.0 L540.9 552.2 L542.3 555.3 L543.9 558.3 L545.6 561.3 L547.3 564.3 L548.7 567.4 L549.9 570.7 L551.1 574.0 L552.5 577.1 L554.1 580.2 L555.9 583.2 L557.6 586.2 L559.0 589.4 L560.2 592.7 L561.3 595.9 L562.7 599.1 L564.4 602.1 L566.1 605.0 L567.7 608.0 L569.1 611.1 L570.2 614.2 L571.4 617.3 L572.7 620.4 L574.2 623.2 L575.8 626.0 L577.4 628.8 L578.8 631.7 L579.9 634.6 L580.9 637.5 L582.0 640.3 L583.3 643.0 L584.8 645.7 L586.4 648.4 L587.9 651.2 L589.3 654.1 L590.4 657.2 L591.5 660.3 L592.8 663.3 L594.3 666.3 L596.0 669.2 L597.7 672.2 L599.2 675.2 L600.4 678.4 L601.6 681.7 L602.9 684.9 L604.5 688.0 L606.2 691.0 L608.0 694.1 L609.5 697.2 L610.7 700.5 L611.9 703.9 L613.2 707.1 L614.9 710.2 L616.7 713.2 L618.4 716.2 L619.8 719.4 L621.0 722.6 L622.2 725.9 L623.5 729.0 L625.1 732.0 L626.8 734.9 L628.5 737.8 L629.9 740.8 L631.0 743.9 L632.1 747.0 L633.3 750.0 L634.7 752.8 L636.3 755.5 L637.9 758.1 L639.3 760.8 L641.4 766.3 L643.5 771.7 L646.0 776.5 L648.6 781.0 L650.7 785.4 L652.2 789.8 L653.8 793.8 L655.6 797.3 L657.3 800.4 L658.7 803.3"/></g>
<path d="M442.0 371.6L436.0 367.7M433.4 361.2L427.8 356.8M421.7 343.4L416.3 338.7M416.2 332.8L410.9 328.1M404.2 312.4L398.8 307.6M390.3 288.9L385.0 284.1M384.2 279.0L378.9 274.2M372.4 258.6L367.1 253.8M366.9 248.1L361.6 243.3M355.3 227.9L350.0 223.2M349.2 218.5L343.9 213.7M344.4 208.8L339.0 204.0M329.9 184.5L324.5 179.7M319.4 166.0L314.1 161.2M312.7 155.6L307.4 150.8M307.0 144.7L301.6 139.9M294.9 124.0L289.6 119.2M283.9 104.8L278.6 100.1M270.0 81.4L264.7 76.6M507.9 363.5L509.0 356.4M513.5 354.0L514.8 346.9M525.0 333.1L526.5 326.1M537.9 310.9L539.5 303.9M543.5 299.9L545.0 292.9M550.6 289.3L552.1 282.3M562.1 269.7L563.6 262.7M575.2 247.4L576.8 240.4M579.4 238.8L581.0 231.8M593.0 215.4L594.5 208.4M603.5 197.3L605.0 190.3M616.3 174.9L617.8 167.9M627.9 154.8L629.4 147.9M635.2 143.8L636.7 136.8M639.4 135.0L640.9 128.0M646.4 124.3L647.8 117.3M659.6 101.3L661.1 94.3M669.6 83.8L671.1 76.8M424.2 421.6L417.2 423.2M400.1 419.5L393.1 421.0M376.2 417.3L369.3 418.9M353.0 415.3L346.0 416.9M328.5 413.1L321.5 414.7M317.9 411.6L310.9 413.2M292.9 409.4L286.0 411.0M268.7 407.3L261.7 408.9M242.9 405.2L235.9 406.8M219.9 403.0L212.9 404.6M195.3 400.9L188.3 402.5M173.7 398.8L166.7 400.4M159.3 397.8L152.3 399.4M138.2 396.2L131.2 397.8M111.7 393.6L104.7 395.2M102.5 392.4L95.6 394.0M76.0 390.3L69.0 391.9M534.0 427.1L540.8 425.0M559.2 427.3L566.0 425.1M580.4 427.2L587.2 425.0M603.6 427.2L610.4 425.0M628.0 427.3L634.8 425.2M652.7 427.5L659.5 425.3M676.9 427.6L683.7 425.5M699.9 427.6L706.7 425.5M725.3 427.9L732.1 425.7M749.2 428.0L756.0 425.8M774.1 428.1L780.9 425.9M795.4 428.0L802.2 425.8M819.5 428.1L826.3 425.9M832.6 427.9L839.4 425.7M856.6 428.0L863.4 425.8M880.7 428.1L887.5 425.9M430.8 473.0L427.7 479.5M416.1 487.8L412.9 494.2M399.1 505.4L395.9 511.8M382.7 522.2L379.5 528.6M373.3 532.5L370.2 538.9M356.0 550.2L352.9 556.6M348.4 557.6L345.2 564.0M341.5 565.5L338.3 571.9M331.6 574.9L328.4 581.3M315.6 591.2L312.5 597.6M307.3 600.6L304.2 607.0M297.8 609.7L294.7 616.1M281.0 627.0L277.8 633.4M265.9 642.2L262.8 648.6M256.4 652.9L253.2 659.3M239.3 670.4L236.1 676.8M223.2 687.0L220.0 693.4M204.7 705.7L201.5 712.1M189.1 722.0L185.9 728.4M487.5 474.1L491.3 480.2M493.9 498.9L497.7 504.9M499.4 520.7L503.2 526.8M505.8 545.5L509.6 551.6M511.7 568.7L515.5 574.8M515.0 578.7L518.8 584.7M517.8 592.5L521.6 598.5M521.0 602.4L524.9 608.5M523.8 616.0L527.6 622.0M529.5 638.5L533.3 644.5M535.7 662.7L539.5 668.8M541.5 685.4L545.3 691.4M544.7 695.3L548.5 701.3M550.8 719.2L554.6 725.3M556.8 743.1L560.7 749.1M562.7 765.9L566.5 772.0M568.7 789.8L572.6 795.8M574.0 810.0L577.8 816.1M441.0 365.8L435.7 361.0M429.0 343.3L424.0 338.3M423.6 332.8L418.6 327.7M413.0 311.5L408.0 306.5M403.5 292.1L398.5 287.0M390.1 266.3L385.1 261.2M379.5 244.9L374.5 239.8M369.1 224.0L364.1 218.9M359.4 204.1L354.4 199.0M354.4 194.4L349.3 189.3M342.7 170.6L337.7 165.5M338.7 162.4L333.7 157.3M332.9 151.5L327.9 146.4M327.6 140.3L322.6 135.2M321.9 129.5L316.9 124.4M310.4 105.9L305.4 100.8M305.5 96.3L300.4 91.2M300.8 87.4L295.8 82.3M295.0 75.4L290.0 70.3M509.1 376.2L509.7 369.1M515.1 363.6L516.7 356.6M527.9 343.0L529.8 336.1M539.1 325.3L541.0 318.4M545.9 316.0L547.8 309.1M560.9 292.9L562.9 286.0M573.5 274.5L575.4 267.6M587.5 253.2L589.5 246.4M594.5 243.0L596.4 236.1M607.5 223.4L609.4 216.5M620.5 203.6L622.4 196.7M632.6 184.9L634.5 178.0M647.2 163.3L649.1 156.4M652.7 155.3L654.6 148.4M659.4 144.4L661.3 137.5M674.6 122.0L676.5 115.1M686.0 104.2L687.9 97.3M431.5 425.5L424.6 427.4M419.9 425.7L413.0 427.7M400.1 424.6L393.2 426.6M373.0 423.9L366.1 425.9M363.1 423.3L356.3 425.2M339.1 422.3L332.2 424.3M324.9 422.1L318.0 424.0M303.5 421.0L296.6 423.0M278.9 420.2L272.0 422.1M255.4 419.2L248.5 421.1M229.9 418.4L223.0 420.3M205.9 417.5L199.0 419.4M180.8 416.6L174.0 418.6M170.0 415.8L163.2 417.7M145.1 414.8L138.2 416.7M121.3 413.9L114.4 415.8M96.6 412.9L89.7 414.8M75.9 412.4L69.0 414.4M538.3 431.5L545.2 429.7M558.8 433.1L565.8 431.3M583.1 434.7L590.0 432.9M609.7 436.2L616.6 434.4M630.5 437.8L637.5 436.0M655.0 439.3L661.9 437.6M668.8 439.7L675.8 437.9M692.1 441.1L699.0 439.4M717.0 442.8L724.0 441.1M726.8 444.0L733.8 442.3M740.4 444.3L747.3 442.6M764.9 445.9L771.8 444.2M786.1 447.1L793.0 445.4M810.3 448.7L817.2 447.0M836.3 450.6L843.2 448.8M859.2 452.0L866.1 450.2M434.7 475.6L431.8 482.2M417.2 495.7L414.4 502.2M402.7 512.1L399.9 518.6M393.4 521.6L390.6 528.2M384.9 532.5L382.1 539.0M377.4 539.8L374.6 546.4M371.0 548.3L368.1 554.8M354.7 566.8L351.9 573.4M338.9 584.8L336.1 591.4M322.1 604.1L319.3 610.6M307.0 621.2L304.2 627.8M291.0 639.5L288.2 646.0M274.6 658.2L271.8 664.8M267.0 665.7L264.1 672.3M250.9 684.0L248.1 690.5M235.9 701.2L233.1 707.7M220.7 718.6L217.9 725.1M494.3 480.9L498.4 486.7M496.2 489.2L500.3 495.0M503.8 514.3L507.9 520.2M511.2 538.0L515.3 543.9M518.1 560.5L522.2 566.3M525.3 583.7L529.4 589.5M532.5 606.9L536.6 612.8M539.4 629.4L543.5 635.2M546.8 653.3L551.0 659.1M553.6 675.0L557.7 680.9M557.3 684.6L561.4 690.4M560.7 698.1L564.8 703.9M564.6 708.0L568.7 713.8M571.9 731.4L576.0 737.3M578.9 754.2L583.0 760.0M582.0 766.8L586.1 772.6M589.9 792.0L594.0 797.9M596.7 814.0L600.8 819.9M448.1 370.6L443.5 365.2M438.2 348.0L433.4 342.7M433.4 338.4L428.6 333.1M428.6 326.5L423.8 321.2M418.2 303.6L413.4 298.3M409.1 283.1L404.3 277.8M399.3 261.5L394.5 256.2M389.5 239.7L384.7 234.4M379.9 218.3L375.1 213.0M368.2 193.3L363.4 188.0M358.7 172.0L353.9 166.7M353.5 160.9L348.7 155.6M343.4 138.3L338.6 133.0M334.4 118.8L329.6 113.6M329.9 107.9L325.1 102.6M318.6 83.4L313.8 78.1M309.9 63.6L305.1 58.3M513.8 378.4L514.7 371.3M524.8 359.3L526.8 352.4M540.0 337.8L542.2 331.0M552.4 320.0L554.6 313.2M566.3 300.7L568.5 293.9M581.0 280.5L583.2 273.7M595.7 260.3L597.9 253.5M607.9 242.9L610.1 236.1M624.9 220.0L627.1 213.2M637.1 202.6L639.2 195.8M652.0 182.0L654.1 175.2M657.5 174.1L659.7 167.3M672.1 153.4L674.3 146.6M679.4 143.6L681.5 136.8M686.0 134.0L688.2 127.2M701.0 112.8L703.2 106.0M706.2 105.8L708.4 99.0M419.9 429.3L413.1 431.5M394.4 429.3L387.6 431.5M372.9 429.3L366.1 431.5M349.5 429.3L342.7 431.4M324.9 429.1L318.1 431.3M299.9 429.0L293.1 431.2M289.3 429.7L282.5 431.9M265.2 429.6L258.4 431.8M252.2 428.8L245.4 431.0M229.9 428.9L223.0 431.1M205.8 428.8L199.0 431.0M180.8 428.7L174.0 430.9M155.7 428.6L148.8 430.8M131.3 428.5L124.4 430.7M108.5 428.5L101.7 430.7M85.6 428.5L78.8 430.7M529.7 434.4L536.7 432.9M553.2 436.8L560.2 435.4M576.5 439.3L583.4 437.8M599.1 441.7L606.1 440.2M623.0 444.2L630.0 442.7M647.4 446.7L654.4 445.2M671.4 449.2L678.4 447.7M697.4 452.0L704.4 450.5M719.2 454.2L726.2 452.7M742.6 456.7L749.6 455.2M767.0 459.2L774.0 457.7M791.6 461.8L798.6 460.3M815.4 464.3L822.4 462.8M840.6 467.0L847.6 465.5M851.9 468.9L858.9 467.4M862.4 469.2L869.4 467.7M450.9 462.0L448.4 468.6M443.1 470.7L440.5 477.4M435.0 481.5L432.4 488.1M421.3 498.5L418.7 505.1M405.3 517.9L402.7 524.6M390.3 536.4L387.7 543.0M381.1 547.0L378.5 553.7M367.5 563.3L364.9 569.9M352.1 582.2L349.5 588.8M343.9 592.9L341.3 599.6M330.0 610.2L327.4 616.9M313.2 630.4L310.6 637.1M306.3 638.2L303.8 644.8M290.7 657.4L288.1 664.1M275.0 676.8L272.4 683.4M259.8 695.5L257.2 702.2M245.4 712.9L242.8 719.5M229.5 732.5L226.9 739.1M224.0 740.0L221.4 746.7M498.4 480.8L502.7 486.5M506.2 502.9L510.5 508.6M509.1 513.8L513.4 519.5M517.3 537.1L521.6 542.8M525.0 559.2L529.3 564.9M530.3 572.0L534.6 577.7M538.3 595.0L542.6 600.7M546.2 617.5L550.5 623.2M548.7 627.1L553.0 632.8M556.9 650.6L561.3 656.3M564.4 672.1L568.8 677.7M572.4 694.8L576.7 700.5M577.7 707.7L582.1 713.4M585.8 730.8L590.1 736.5M593.6 753.1L597.9 758.8M601.8 776.5L606.1 782.2M604.8 787.3L609.1 792.9M612.3 808.9L616.7 814.6M449.2 359.5L444.9 353.8M441.2 338.0L436.6 332.5M435.7 326.3L431.1 320.9M426.1 302.8L421.5 297.4M417.4 281.8L412.8 276.4M408.3 259.7L403.6 254.2M399.0 237.3L394.3 231.8M395.1 225.9L390.5 220.4M386.3 204.5L381.7 199.1M375.5 178.6L370.8 173.2M367.5 158.9L362.9 153.4M362.1 147.6L357.5 142.1M358.0 135.7L353.4 130.2M349.8 115.6L345.2 110.1M340.8 93.7L336.2 88.3M334.1 79.0L329.5 73.6M325.5 58.2L320.8 52.8M527.4 366.1L529.6 359.4M535.3 354.8L537.6 348.0M549.2 336.5L551.6 329.8M556.2 328.6L558.6 321.9M570.3 310.7L572.7 304.0M587.0 289.1L589.5 282.4M600.5 272.2L603.0 265.5M615.5 253.1L618.0 246.4M629.6 235.2L632.0 228.5M645.6 214.6L648.0 207.9M652.7 204.5L655.1 197.8M666.2 187.1L668.6 180.4M674.6 177.6L677.0 170.9M681.7 167.3L684.2 160.6M689.8 158.0L692.2 151.3M696.5 148.3L699.0 141.6M704.0 139.9L706.4 133.2M719.1 120.6L721.5 113.9M419.8 433.6L413.1 436.1M394.3 434.6L387.6 437.1M372.9 435.4L366.2 437.8M359.7 436.6L353.0 439.0M335.5 437.4L328.8 439.9M324.8 437.0L318.1 439.4M299.8 437.8L293.1 440.3M289.3 439.0L282.5 441.4M265.2 439.8L258.5 442.2M239.6 440.7L232.9 443.1M226.5 440.4L219.7 442.8M202.2 441.3L195.5 443.7M180.7 442.0L174.0 444.4M166.4 443.2L159.6 445.7M145.0 444.0L138.3 446.4M121.2 444.8L114.5 447.3M96.5 445.7L89.8 448.1M71.4 446.6L64.7 449.0M529.6 438.3L536.7 437.1M553.0 441.7L560.1 440.5M576.3 445.1L583.3 443.9M598.9 448.3L605.9 447.1M622.7 451.8L629.7 450.6M647.0 455.3L654.1 454.0M671.0 458.7L678.0 457.5M693.8 462.0L700.8 460.8M718.6 465.6L725.7 464.4M731.7 468.2L738.7 467.0M742.0 469.0L749.0 467.7M755.7 471.7L762.8 470.5M776.8 474.8L783.8 473.6M801.0 478.3L808.1 477.1M814.6 479.5L821.6 478.2M824.2 481.6L831.2 480.4M851.0 485.5L858.0 484.3M874.7 488.9L881.7 487.7M450.5 466.9L448.3 473.7M444.4 476.6L442.1 483.3M429.2 496.9L426.9 503.7M414.5 516.5L412.2 523.3M408.0 524.0L405.7 530.8M393.6 543.3L391.3 550.1M378.8 563.2L376.5 569.9M364.1 582.9L361.8 589.7M349.9 601.9L347.6 608.7M334.8 622.3L332.5 629.1M329.5 630.6L327.2 637.4M315.1 649.9L312.8 656.7M300.2 669.9L297.9 676.6M285.2 689.8L282.9 696.6M278.4 697.8L276.1 704.6M264.4 716.6L262.1 723.3M250.0 735.9L247.7 742.7M235.5 755.3L233.2 762.1M502.5 480.8L507.1 486.3M506.7 493.3L511.3 498.8M514.6 513.1L519.1 518.6M519.7 524.0L524.3 529.5M529.3 548.0L533.8 553.5M532.3 557.7L536.8 563.2M538.1 570.2L542.6 575.7M547.0 592.7L551.5 598.2M550.0 602.5L554.6 608.0M559.8 627.2L564.4 632.7M567.8 647.3L572.3 652.8M577.4 671.4L581.9 676.9M586.2 693.8L590.8 699.3M595.3 716.5L599.8 722.0M604.1 738.7L608.7 744.3M612.4 759.8L617.0 765.3M620.9 781.2L625.5 786.7M455.8 373.5L453.7 366.7M451.6 348.3L447.5 342.5M444.2 325.6L439.9 319.9M440.7 316.5L436.4 310.8M431.4 290.9L427.0 285.3M424.6 271.3L420.2 265.7M416.2 248.2L411.9 242.6M407.9 225.2L403.5 219.5M399.9 202.9L395.5 197.3M396.3 192.4L391.9 186.7M387.8 167.7L383.4 162.0M380.3 147.2L375.9 141.5M371.9 123.1L367.6 117.5M363.7 99.7L359.3 94.0M356.6 80.6L352.2 75.0M348.3 56.8L343.9 51.2M532.4 368.2L535.0 361.5M547.1 350.6L549.9 344.0M552.8 343.4L555.5 336.8M563.0 332.2L565.7 325.6M569.6 323.6L572.4 317.0M584.8 306.1L587.6 299.5M593.0 297.2L595.8 290.7M609.0 278.8L611.8 272.2M626.8 258.5L629.6 251.9M641.5 241.4L644.3 234.9M656.3 224.2L659.1 217.6M672.4 205.6L675.1 199.1M688.8 186.7L691.6 180.1M694.5 179.3L697.3 172.7M710.2 161.2L712.9 154.6M727.5 140.7L730.3 134.2M741.5 124.8L744.3 118.2M423.9 438.1L417.4 441.0M410.4 439.5L403.9 442.4M385.4 442.0L378.8 444.8M363.0 443.9L356.4 446.7M349.4 444.8L342.8 447.6M324.7 447.0L318.2 449.8M303.3 449.1L296.7 451.9M289.2 450.7L282.6 453.5M265.1 452.9L258.6 455.7M242.7 454.9L236.1 457.7M219.6 456.9L213.0 459.7M195.1 459.2L188.5 462.0M169.9 461.6L163.3 464.4M148.4 463.3L141.9 466.2M124.4 465.6L117.8 468.4M96.5 468.4L89.9 471.3M75.7 470.1L69.2 472.9M519.4 440.6L526.5 439.8M542.6 445.2L549.7 444.4M569.6 450.9L576.7 450.1M591.5 455.1L598.6 454.2M614.9 459.6L622.0 458.8M625.2 461.5L632.3 460.6M639.0 464.4L646.0 463.5M662.9 469.1L670.0 468.3M685.9 473.6L693.0 472.7M707.5 477.6L714.6 476.8M733.3 482.9L740.4 482.1M757.2 487.7L764.3 486.8M778.1 491.5L785.2 490.7M802.1 496.3L809.2 495.4M824.9 500.6L831.9 499.8M837.0 503.1L844.1 502.2M863.3 508.0L870.4 507.1M871.8 509.8L878.9 509.0M445.2 482.5L443.3 489.4M439.5 490.6L437.6 497.5M425.1 512.2L423.1 519.1M412.5 531.4L410.6 538.3M399.1 551.7L397.2 558.6M385.3 572.4L383.4 579.3M371.7 592.9L369.8 599.8M366.4 601.8L364.5 608.7M352.2 623.6L350.3 630.5M344.6 633.8L342.7 640.7M331.6 653.6L329.7 660.5M326.3 662.8L324.4 669.7M312.5 683.8L310.6 690.7M298.8 704.6L296.9 711.5M292.5 713.0L290.6 719.9M279.7 732.4L277.8 739.3M266.7 752.3L264.8 759.2M507.9 484.7L512.8 490.0M514.5 497.2L519.4 502.4M523.9 517.4L528.8 522.6M534.7 540.3L539.6 545.5M538.3 549.7L543.2 554.9M544.7 561.7L549.6 567.0M555.0 583.7L559.8 588.9M565.1 605.4L570.0 610.7M574.8 626.3L579.7 631.5M579.4 637.8L584.3 643.0M588.9 657.7L593.8 663.0M598.9 679.2L603.8 684.4M609.3 701.3L614.1 706.6M615.7 713.7L620.6 718.9M625.9 735.3L630.7 740.5M635.2 755.6L640.1 760.8M640.8 769.1L645.7 774.4M651.2 791.2L656.1 796.5" fill="none" stroke="#ffb595" stroke-width="1.9" stroke-linecap="round" opacity="0.7"/>

<ellipse cx="477" cy="424.6" rx="51" ry="52.4" fill="url(#hubg)"/>
<ellipse cx="477" cy="424.6" rx="51" ry="52.4" fill="url(#hubred)"/>
<ellipse cx="477" cy="424.6" rx="51" ry="52.4" fill="url(#hubred2)"/>
<g clip-path="url(#hubclip)"><rect x="424" y="370" width="106" height="110" filter="url(#noise)" opacity="0.3"/></g>
<ellipse cx="474.5" cy="431" rx="18.3" ry="16.3" fill="#55555b" stroke="#3a3a40" stroke-width="1.2"/>
<ellipse cx="474.6" cy="431.5" rx="15.6" ry="13.8" fill="none" stroke="#a4a4aa" stroke-width="2.6"/>
<ellipse cx="474.8" cy="430.5" rx="12.6" ry="11.6" fill="#3c3c42"/>
<circle cx="474.8" cy="428" r="9.8" fill="#050506"/>

<g>
<rect x="1208.05" y="171" width="23.8" height="758" fill="url(#rodg)"/>
<rect x="1208.55" y="171" width="23.8" height="13" fill="#d7d7d7"/>
<rect x="1208.05" y="916" width="23.8" height="13" fill="#d7d7d7"/>
<rect x="1208.30" y="103.4" width="24" height="25" rx="3" fill="url(#capg)"/>
<circle cx="1218.80" cy="114.8" r="7" fill="#9a9a9a" stroke="#555" stroke-width="1.3"/>
<ellipse cx="1218.80" cy="112.3" rx="3.8" ry="2" fill="#e6e6e6"/>
<rect x="1204.70" y="126.8" width="31.2" height="45" rx="2.5" fill="url(#slv)"/>
<rect x="1204.70" y="168" width="31.2" height="4" fill="#8a8a8a"/>
<circle cx="1215.50" cy="146.5" r="2.7" fill="#aaa" stroke="#444" stroke-width="1.1"/>
<circle cx="1215.50" cy="162.1" r="2.7" fill="#aaa" stroke="#444" stroke-width="1.1"/>
<rect x="1204.50" y="927.9" width="30.4" height="67" rx="2.5" fill="url(#slvb)"/>
<circle cx="1216.70" cy="938.5" r="2.7" fill="#ddd" stroke="#444" stroke-width="1.1"/>
<circle cx="1216.70" cy="954.1" r="2.7" fill="#ddd" stroke="#444" stroke-width="1.1"/>
<circle cx="1218.40" cy="985.3" r="6.4" fill="#6e6e6e" stroke="#444" stroke-width="1.2"/>
<ellipse cx="1220.60" cy="985.8" rx="2.6" ry="4.2" fill="#a2a2a2"/>
</g><g>
<rect x="1244.15" y="171" width="23.8" height="758" fill="url(#rodg)"/>
<rect x="1244.65" y="171" width="23.8" height="13" fill="#d7d7d7"/>
<rect x="1244.15" y="916" width="23.8" height="13" fill="#d7d7d7"/>
<rect x="1245.60" y="103.4" width="24" height="25" rx="3" fill="url(#capg)"/>
<circle cx="1256.10" cy="114.8" r="7" fill="#9a9a9a" stroke="#555" stroke-width="1.3"/>
<ellipse cx="1256.10" cy="112.3" rx="3.8" ry="2" fill="#e6e6e6"/>
<rect x="1242.00" y="126.8" width="31.2" height="45" rx="2.5" fill="url(#slv)"/>
<rect x="1242.00" y="168" width="31.2" height="4" fill="#8a8a8a"/>
<circle cx="1252.80" cy="146.5" r="2.7" fill="#aaa" stroke="#444" stroke-width="1.1"/>
<circle cx="1252.80" cy="162.1" r="2.7" fill="#aaa" stroke="#444" stroke-width="1.1"/>
<rect x="1240.90" y="927.9" width="30.4" height="67" rx="2.5" fill="url(#slvb)"/>
<circle cx="1253.10" cy="938.5" r="2.7" fill="#ddd" stroke="#444" stroke-width="1.1"/>
<circle cx="1253.10" cy="954.1" r="2.7" fill="#ddd" stroke="#444" stroke-width="1.1"/>
<circle cx="1254.80" cy="985.3" r="6.4" fill="#6e6e6e" stroke="#444" stroke-width="1.2"/>
<ellipse cx="1257.00" cy="985.8" rx="2.6" ry="4.2" fill="#a2a2a2"/>
</g><g>
<rect x="1280.15" y="171" width="23.8" height="758" fill="url(#rodg)"/>
<rect x="1280.65" y="171" width="23.8" height="13" fill="#d7d7d7"/>
<rect x="1280.15" y="916" width="23.8" height="13" fill="#d7d7d7"/>
<rect x="1279.50" y="103.4" width="24" height="25" rx="3" fill="url(#capg)"/>
<circle cx="1290.00" cy="114.8" r="7" fill="#9a9a9a" stroke="#555" stroke-width="1.3"/>
<ellipse cx="1290.00" cy="112.3" rx="3.8" ry="2" fill="#e6e6e6"/>
<rect x="1275.90" y="126.8" width="31.2" height="45" rx="2.5" fill="url(#slv)"/>
<rect x="1275.90" y="168" width="31.2" height="4" fill="#8a8a8a"/>
<circle cx="1286.70" cy="146.5" r="2.7" fill="#aaa" stroke="#444" stroke-width="1.1"/>
<circle cx="1286.70" cy="162.1" r="2.7" fill="#aaa" stroke="#444" stroke-width="1.1"/>
<rect x="1277.60" y="927.9" width="30.4" height="67" rx="2.5" fill="url(#slvb)"/>
<circle cx="1289.80" cy="938.5" r="2.7" fill="#ddd" stroke="#444" stroke-width="1.1"/>
<circle cx="1289.80" cy="954.1" r="2.7" fill="#ddd" stroke="#444" stroke-width="1.1"/>
<circle cx="1291.50" cy="985.3" r="6.4" fill="#6e6e6e" stroke="#444" stroke-width="1.2"/>
<ellipse cx="1293.70" cy="985.8" rx="2.6" ry="4.2" fill="#a2a2a2"/>
</g><g>
<rect x="1316.85" y="171" width="23.8" height="758" fill="url(#rodg)"/>
<rect x="1317.35" y="171" width="23.8" height="13" fill="#d7d7d7"/>
<rect x="1316.85" y="916" width="23.8" height="13" fill="#d7d7d7"/>
<rect x="1316.20" y="103.4" width="24" height="25" rx="3" fill="url(#capg)"/>
<circle cx="1326.70" cy="114.8" r="7" fill="#9a9a9a" stroke="#555" stroke-width="1.3"/>
<ellipse cx="1326.70" cy="112.3" rx="3.8" ry="2" fill="#e6e6e6"/>
<rect x="1312.60" y="126.8" width="31.2" height="45" rx="2.5" fill="url(#slv)"/>
<rect x="1312.60" y="168" width="31.2" height="4" fill="#8a8a8a"/>
<circle cx="1323.40" cy="146.5" r="2.7" fill="#aaa" stroke="#444" stroke-width="1.1"/>
<circle cx="1323.40" cy="162.1" r="2.7" fill="#aaa" stroke="#444" stroke-width="1.1"/>
<rect x="1312.40" y="927.9" width="30.4" height="67" rx="2.5" fill="url(#slvb)"/>
<circle cx="1324.60" cy="938.5" r="2.7" fill="#ddd" stroke="#444" stroke-width="1.1"/>
<circle cx="1324.60" cy="954.1" r="2.7" fill="#ddd" stroke="#444" stroke-width="1.1"/>
<circle cx="1326.30" cy="985.3" r="6.4" fill="#6e6e6e" stroke="#444" stroke-width="1.2"/>
<ellipse cx="1328.50" cy="985.8" rx="2.6" ry="4.2" fill="#a2a2a2"/>
</g><g>
<rect x="1352.25" y="171" width="23.8" height="758" fill="url(#rodg)"/>
<rect x="1352.75" y="171" width="23.8" height="13" fill="#d7d7d7"/>
<rect x="1352.25" y="916" width="23.8" height="13" fill="#d7d7d7"/>
<rect x="1353.80" y="103.4" width="24" height="25" rx="3" fill="url(#capg)"/>
<circle cx="1364.30" cy="114.8" r="7" fill="#9a9a9a" stroke="#555" stroke-width="1.3"/>
<ellipse cx="1364.30" cy="112.3" rx="3.8" ry="2" fill="#e6e6e6"/>
<rect x="1350.20" y="126.8" width="31.2" height="45" rx="2.5" fill="url(#slv)"/>
<rect x="1350.20" y="168" width="31.2" height="4" fill="#8a8a8a"/>
<circle cx="1361.00" cy="146.5" r="2.7" fill="#aaa" stroke="#444" stroke-width="1.1"/>
<circle cx="1361.00" cy="162.1" r="2.7" fill="#aaa" stroke="#444" stroke-width="1.1"/>
<rect x="1348.80" y="927.9" width="30.4" height="67" rx="2.5" fill="url(#slvb)"/>
<circle cx="1361.00" cy="938.5" r="2.7" fill="#ddd" stroke="#444" stroke-width="1.1"/>
<circle cx="1361.00" cy="954.1" r="2.7" fill="#ddd" stroke="#444" stroke-width="1.1"/>
<circle cx="1362.70" cy="985.3" r="6.4" fill="#6e6e6e" stroke="#444" stroke-width="1.2"/>
<ellipse cx="1364.90" cy="985.8" rx="2.6" ry="4.2" fill="#a2a2a2"/>
</g><g>
<rect x="1388.45" y="171" width="23.8" height="758" fill="url(#rodg)"/>
<rect x="1388.95" y="171" width="23.8" height="13" fill="#d7d7d7"/>
<rect x="1388.45" y="916" width="23.8" height="13" fill="#d7d7d7"/>
<rect x="1387.40" y="103.4" width="24" height="25" rx="3" fill="url(#capg)"/>
<circle cx="1397.90" cy="114.8" r="7" fill="#9a9a9a" stroke="#555" stroke-width="1.3"/>
<ellipse cx="1397.90" cy="112.3" rx="3.8" ry="2" fill="#e6e6e6"/>
<rect x="1383.80" y="126.8" width="31.2" height="45" rx="2.5" fill="url(#slv)"/>
<rect x="1383.80" y="168" width="31.2" height="4" fill="#8a8a8a"/>
<circle cx="1394.60" cy="146.5" r="2.7" fill="#aaa" stroke="#444" stroke-width="1.1"/>
<circle cx="1394.60" cy="162.1" r="2.7" fill="#aaa" stroke="#444" stroke-width="1.1"/>
<rect x="1385.40" y="927.9" width="30.4" height="67" rx="2.5" fill="url(#slvb)"/>
<circle cx="1397.60" cy="938.5" r="2.7" fill="#ddd" stroke="#444" stroke-width="1.1"/>
<circle cx="1397.60" cy="954.1" r="2.7" fill="#ddd" stroke="#444" stroke-width="1.1"/>
<circle cx="1399.30" cy="985.3" r="6.4" fill="#6e6e6e" stroke="#444" stroke-width="1.2"/>
<ellipse cx="1401.50" cy="985.8" rx="2.6" ry="4.2" fill="#a2a2a2"/>
</g><g>
<rect x="1424.45" y="171" width="23.8" height="758" fill="url(#rodg)"/>
<rect x="1424.95" y="171" width="23.8" height="13" fill="#d7d7d7"/>
<rect x="1424.45" y="916" width="23.8" height="13" fill="#d7d7d7"/>
<rect x="1423.80" y="103.4" width="24" height="25" rx="3" fill="url(#capg)"/>
<circle cx="1434.30" cy="114.8" r="7" fill="#9a9a9a" stroke="#555" stroke-width="1.3"/>
<ellipse cx="1434.30" cy="112.3" rx="3.8" ry="2" fill="#e6e6e6"/>
<rect x="1420.20" y="126.8" width="31.2" height="45" rx="2.5" fill="url(#slv)"/>
<rect x="1420.20" y="168" width="31.2" height="4" fill="#8a8a8a"/>
<circle cx="1431.00" cy="146.5" r="2.7" fill="#aaa" stroke="#444" stroke-width="1.1"/>
<circle cx="1431.00" cy="162.1" r="2.7" fill="#aaa" stroke="#444" stroke-width="1.1"/>
<rect x="1420.00" y="927.9" width="30.4" height="67" rx="2.5" fill="url(#slvb)"/>
<circle cx="1432.20" cy="938.5" r="2.7" fill="#ddd" stroke="#444" stroke-width="1.1"/>
<circle cx="1432.20" cy="954.1" r="2.7" fill="#ddd" stroke="#444" stroke-width="1.1"/>
<circle cx="1433.90" cy="985.3" r="6.4" fill="#6e6e6e" stroke="#444" stroke-width="1.2"/>
<ellipse cx="1436.10" cy="985.8" rx="2.6" ry="4.2" fill="#a2a2a2"/>
</g>

<g>
 <rect x="683" y="866" width="75.5" height="20.3" rx="3" fill="url(#shaftg)"/>
 <path d="M672 853.5 L689 864.5 L689 887.5 L672 898.5 Z" fill="url(#metv)"/>
 <rect x="662" y="851.5" width="17" height="49" rx="6" fill="url(#metv)"/>
 <rect x="626" y="856" width="41" height="39.5" rx="2" fill="url(#metv)"/>
 <ellipse cx="628.5" cy="875.7" rx="4.8" ry="19.6" fill="#9c9c9c"/>
 <circle cx="648" cy="875" r="11.3" fill="url(#holec)" stroke="#777" stroke-width="1.2"/>
 <ellipse cx="650.5" cy="875.5" rx="6" ry="5.6" fill="#6e6e6e"/>
</g>


<g fill="none">
 <path d="M951.7 801 V896.5 Q951.7 908.3 963.5 908.3 H1070.8" stroke="url(#keyg)" stroke-width="12.3"/>
 <path d="M948.2 802 V896 Q948.2 911 963.5 911.5 H1070.8" stroke="#c9c9c9" stroke-width="2.4" opacity="0.75"/>
 <path d="M945.6 802.5 L951.7 791 L957.8 802.5 Z" fill="#b8b8b8"/>
 <path d="M949.5 801.5 L951.7 793 L953.5 801.5 Z" fill="#eeeeee"/>
</g>

<path d="M424.5 411.8H526M424.5 400V423M526 400V423" stroke="#fff" stroke-width="8.0" fill="none" stroke-linecap="round"/><path d="M424.5 411.8H526M424.5 400V423M526 400V423" stroke="#333333" stroke-width="3.5" fill="none"/><path d="M533 411.9H892.5M533 400.2V423.2M892.5 400.2V423.2" stroke="#333333" stroke-width="3.5" fill="none"/><path d="M626.7 923.5H756.1M626.7 911.8V934.6M756.1 911.8V934.6" stroke="#333333" stroke-width="3.5" fill="none"/><path d="M945.9 933.5H1067.9M945.9 921.8V944.6M1067.9 921.8V944.6" stroke="#333333" stroke-width="3.5" fill="none"/><path d="M1171.9 105.5V992.5M1160.5 105.5H1183M1160.5 992.5H1183" stroke="#333333" stroke-width="3.5" fill="none"/>

<g style="font-family:'Liberation Sans',Arial,Helvetica,sans-serif" fill="#333333">
 <text x="383.00" y="386.0" font-size="44" font-weight="400" textLength="189.58" lengthAdjust="spacing" stroke="#fff" stroke-width="3" paint-order="stroke" stroke-linejoin="round">2in (5cm)</text>
 <text x="611.00" y="386.0" font-size="44" font-weight="400" textLength="251.75" lengthAdjust="spacing">8.7in (22cm)</text>
 <text x="579.00" y="995.7" font-size="44" font-weight="400" textLength="225.88" lengthAdjust="spacing">1in (2.5cm)</text>
 <text x="858.00" y="995.6" font-size="44" font-weight="400" textLength="263.77" lengthAdjust="spacing">0.7in (1.7cm)</text>
 <text transform="translate(1117.5 0) rotate(90)" x="387.00" y="0" font-size="44" textLength="301.08" lengthAdjust="spacing">39.4in (100cm)</text>
</g>


<rect x="30" y="1051" width="1439" height="325" rx="10.5" fill="#efefef"/>
<rect x="75" y="1199.8" width="1245" height="2.8" fill="url(#divg)"/>
<g style="font-family:'Liberation Sans',Arial,Helvetica,sans-serif" fill="#333333">
 <text x="70.00" y="1110.2" font-size="33.5" font-weight="400" textLength="297.16" lengthAdjust="spacing">Item Model Number</text>
 <text x="600.00" y="1110.1" font-size="33.5" font-weight="400" textLength="105.07" lengthAdjust="spacing">Length</text>
 <text x="1189.50" y="1110.0" font-size="33.5" font-weight="400" textLength="205.08" lengthAdjust="spacing">Main Material</text>
 <text x="70.00" y="1269.9" font-size="33.5" font-weight="400" textLength="167.71" lengthAdjust="spacing">Net Weight</text>
 <text x="72.50" y="1167.5" font-size="44.5" font-weight="700" textLength="114.38" lengthAdjust="spacing">CB07</text>
 <text x="601.00" y="1167.3" font-size="44.5" font-weight="700" textLength="281.05" lengthAdjust="spacing">275.5 in / 7 m</text>
 <text x="1189.50" y="1167.3" font-size="44.5" font-weight="700" textLength="125.62" lengthAdjust="spacing">Nylon</text>
 <text x="72.00" y="1327.2" font-size="44.5" font-weight="700" textLength="330.92" lengthAdjust="spacing">4.18 lbs / 1.9 kg</text>
</g>

<g fill="#ffffff"><rect x="581.25" y="991.01" width="8.79" height="5.34"/><rect x="593.97" y="991.01" width="8.35" height="5.34"/><rect x="986.63" y="990.91" width="8.79" height="5.34"/><rect x="999.35" y="990.91" width="8.35" height="5.34"/></g><g fill="#efefef"><rect x="111.36" y="1321.26" width="8.66" height="6.59"/><rect x="126.17" y="1321.26" width="8.00" height="6.59"/><rect x="277.09" y="1321.26" width="8.66" height="6.59"/><rect x="291.90" y="1321.26" width="8.00" height="6.59"/></g><g fill="#ffffff" transform="translate(1117.5 0) rotate(90)"><rect x="540.69" y="-4.69" width="8.79" height="5.34"/><rect x="553.41" y="-4.69" width="8.35" height="5.34"/></g>
</svg>
</body></html>
